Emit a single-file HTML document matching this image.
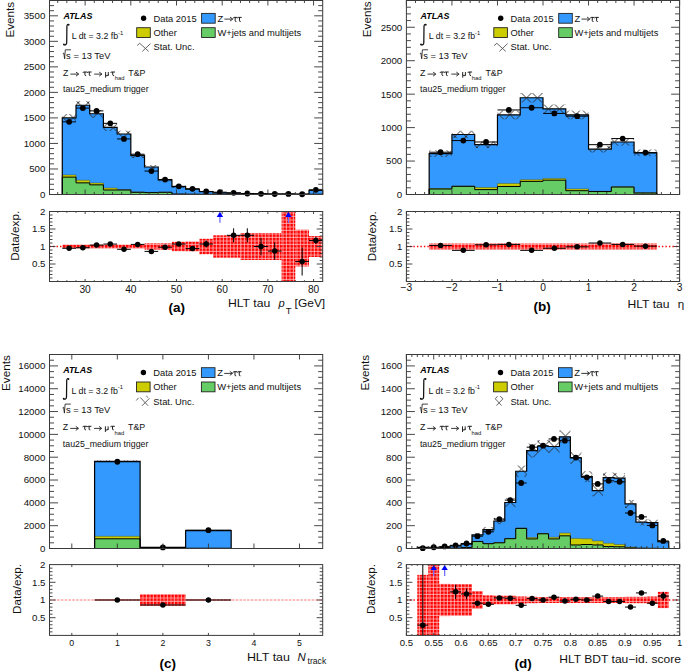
<!DOCTYPE html>
<html><head><meta charset="utf-8"><title>ATLAS HLT tau</title>
<style>
html,body{margin:0;padding:0;background:#fff;}
body{width:685px;height:672px;overflow:hidden;font-family:"Liberation Sans", sans-serif;}
svg{display:block;}
</style></head><body>
<svg width="685" height="672" viewBox="0 0 685 672" font-family='&quot;Liberation Sans&quot;, sans-serif'><defs><pattern id="hA" patternUnits="userSpaceOnUse" x="73.2" y="97.7" width="10" height="10"><path d="M-1,-1 L11,11 M11,-1 L-1,11" stroke="#222" stroke-width="0.9" fill="none"/></pattern><pattern id="rp_a" patternUnits="userSpaceOnUse" width="3.5" height="3.5"><rect width="3.5" height="3.5" fill="#ff0000"/><rect x="0" y="2.5" width="3.5" height="0.75" fill="#ffc4c4"/><rect x="2.5" y="0" width="0.75" height="3.5" fill="#ffc4c4"/></pattern><pattern id="hB" patternUnits="userSpaceOnUse" x="520.9" y="92.5" width="11" height="11"><path d="M-1,-1 L12,12 M12,-1 L-1,12" stroke="#222" stroke-width="0.9" fill="none"/></pattern><pattern id="rp_b" patternUnits="userSpaceOnUse" width="3.5" height="3.5"><rect width="3.5" height="3.5" fill="#ff0000"/><rect x="0" y="2.5" width="3.5" height="0.75" fill="#ffc4c4"/><rect x="2.5" y="0" width="0.75" height="3.5" fill="#ffc4c4"/></pattern><pattern id="hC" patternUnits="userSpaceOnUse" x="0" y="0" width="9" height="9"><path d="M-1,-1 L10,10 M10,-1 L-1,10" stroke="#222" stroke-width="0.9" fill="none"/></pattern><pattern id="rp_c" patternUnits="userSpaceOnUse" width="3.5" height="3.5"><rect width="3.5" height="3.5" fill="#ff0000"/><rect x="0" y="2.5" width="3.5" height="0.75" fill="#ffc4c4"/><rect x="2.5" y="0" width="0.75" height="3.5" fill="#ffc4c4"/></pattern><pattern id="hD" patternUnits="userSpaceOnUse" x="592.9" y="485.5" width="11" height="11"><path d="M-1,-1 L12,12 M12,-1 L-1,12" stroke="#222" stroke-width="0.9" fill="none"/></pattern><pattern id="rp_d" patternUnits="userSpaceOnUse" width="3.5" height="3.5"><rect width="3.5" height="3.5" fill="#ff0000"/><rect x="0" y="2.5" width="3.5" height="0.75" fill="#ffc4c4"/><rect x="2.5" y="0" width="0.75" height="3.5" fill="#ffc4c4"/></pattern></defs><rect width="685" height="672" fill="#fff"/><path d="M62.29,194.5 L62.29,117.92 L76,117.92 L76,105.26 L89.7,105.26 L89.7,113.73 L103.41,113.73 L103.41,127.42 L117.11,127.42 L117.11,134 L130.82,134 L130.82,155.34 L144.53,155.34 L144.53,166.98 L158.23,166.98 L158.23,179.85 L171.94,179.85 L171.94,186.59 L185.64,186.59 L185.64,189.14 L199.35,189.14 L199.35,191.69 L213.05,191.69 L213.05,192.82 L226.76,192.82 L226.76,193.22 L240.47,193.22 L240.47,193.73 L254.17,193.73 L254.17,193.89 L267.88,193.89 L267.88,193.99 L281.58,193.99 L281.58,194.09 L295.29,194.09 L295.29,194.09 L308.99,194.09 L308.99,190.42 L322.7,190.42 L322.7,194.5 Z" fill="#3399ff"/>
<path d="M62.29,194.5 L62.29,174.9 L76,174.9 L76,180.21 L89.7,180.21 L89.7,182.96 L103.41,182.96 L103.41,188.07 L117.11,188.07 L117.11,189.65 L130.82,189.65 L130.82,192 L144.53,192 L144.53,192.41 L158.23,192.41 L158.23,192.15 L171.94,192.15 L171.94,193.99 L185.64,193.99 L185.64,194.19 L199.35,194.19 L199.35,194.3 L213.05,194.3 L213.05,194.35 L226.76,194.35 L226.76,194.4 L240.47,194.4 L240.47,194.4 L254.17,194.4 L254.17,194.45 L267.88,194.45 L267.88,194.45 L281.58,194.45 L281.58,194.5 L295.29,194.5 L295.29,194.5 L308.99,194.5 L308.99,194.19 L322.7,194.19 L322.7,194.5 Z" fill="#cccc00"/>
<path d="M62.29,194.5 L62.29,177.14 L76,177.14 L76,182.86 L89.7,182.86 L89.7,184.85 L103.41,184.85 L103.41,190.01 L117.11,190.01 L117.11,190.01 L130.82,190.01 L130.82,192.3 L144.53,192.3 L144.53,192.61 L158.23,192.61 L158.23,192.3 L171.94,192.3 L171.94,194.09 L185.64,194.09 L185.64,194.24 L199.35,194.24 L199.35,194.35 L213.05,194.35 L213.05,194.4 L226.76,194.4 L226.76,194.45 L240.47,194.45 L240.47,194.45 L254.17,194.45 L254.17,194.45 L267.88,194.45 L267.88,194.45 L281.58,194.45 L281.58,194.5 L295.29,194.5 L295.29,194.5 L308.99,194.5 L308.99,194.24 L322.7,194.24 L322.7,194.5 Z" fill="#66cc66"/>
<path d="M62.29,194.5 L62.29,174.9 L76,174.9 L76,180.21 L89.7,180.21 L89.7,182.96 L103.41,182.96 L103.41,188.07 L117.11,188.07 L117.11,189.65 L130.82,189.65 L130.82,192 L144.53,192 L144.53,192.41 L158.23,192.41 L158.23,192.15 L171.94,192.15 L171.94,193.99 L185.64,193.99 L185.64,194.19 L199.35,194.19 L199.35,194.3 L213.05,194.3 L213.05,194.35 L226.76,194.35 L226.76,194.4 L240.47,194.4 L240.47,194.4 L254.17,194.4 L254.17,194.45 L267.88,194.45 L267.88,194.45 L281.58,194.45 L281.58,194.5 L295.29,194.5 L295.29,194.5 L308.99,194.5 L308.99,194.19 L322.7,194.19 L322.7,194.5" fill="none" stroke="#4a5a30" stroke-width="0.5"/>
<path d="M62.29,194.5 L62.29,177.14 L76,177.14 L76,182.86 L89.7,182.86 L89.7,184.85 L103.41,184.85 L103.41,190.01 L117.11,190.01 L117.11,190.01 L130.82,190.01 L130.82,192.3 L144.53,192.3 L144.53,192.61 L158.23,192.61 L158.23,192.3 L171.94,192.3 L171.94,194.09 L185.64,194.09 L185.64,194.24 L199.35,194.24 L199.35,194.35 L213.05,194.35 L213.05,194.4 L226.76,194.4 L226.76,194.45 L240.47,194.45 L240.47,194.45 L254.17,194.45 L254.17,194.45 L267.88,194.45 L267.88,194.45 L281.58,194.45 L281.58,194.5 L295.29,194.5 L295.29,194.5 L308.99,194.5 L308.99,194.24 L322.7,194.24 L322.7,194.5" fill="none" stroke="#000" stroke-width="1.0"/>
<path d="M62.29,194.5 L62.29,117.92 L76,117.92 L76,105.26 L89.7,105.26 L89.7,113.73 L103.41,113.73 L103.41,127.42 L117.11,127.42 L117.11,134 L130.82,134 L130.82,155.34 L144.53,155.34 L144.53,166.98 L158.23,166.98 L158.23,179.85 L171.94,179.85 L171.94,186.59 L185.64,186.59 L185.64,189.14 L199.35,189.14 L199.35,191.69 L213.05,191.69 L213.05,192.82 L226.76,192.82 L226.76,193.22 L240.47,193.22 L240.47,193.73 L254.17,193.73 L254.17,193.89 L267.88,193.89 L267.88,193.99 L281.58,193.99 L281.58,194.09 L295.29,194.09 L295.29,194.09 L308.99,194.09 L308.99,190.42 L322.7,190.42 L322.7,194.5" fill="none" stroke="#000" stroke-width="1.2"/>
<rect x="62.29" y="114.09" width="13.71" height="7.66" fill="url(#hA)"/>
<rect x="76" y="101.18" width="13.71" height="8.17" fill="url(#hA)"/>
<rect x="89.7" y="109.91" width="13.71" height="7.66" fill="url(#hA)"/>
<rect x="103.41" y="123.84" width="13.71" height="7.15" fill="url(#hA)"/>
<rect x="117.11" y="130.68" width="13.71" height="6.64" fill="url(#hA)"/>
<rect x="130.82" y="152.79" width="13.71" height="5.11" fill="url(#hA)"/>
<rect x="144.53" y="164.94" width="13.71" height="4.08" fill="url(#hA)"/>
<rect x="158.23" y="178.32" width="13.71" height="3.06" fill="url(#hA)"/>
<rect x="171.94" y="185.57" width="13.71" height="2.04" fill="url(#hA)"/>
<rect x="185.64" y="188.37" width="13.71" height="1.53" fill="url(#hA)"/>
<rect x="199.35" y="191.18" width="13.71" height="1.02" fill="url(#hA)"/>
<rect x="213.05" y="192.41" width="13.71" height="0.82" fill="url(#hA)"/>
<rect x="226.76" y="192.92" width="13.71" height="0.61" fill="url(#hA)"/>
<rect x="240.47" y="193.48" width="13.71" height="0.51" fill="url(#hA)"/>
<rect x="254.17" y="193.68" width="13.71" height="0.41" fill="url(#hA)"/>
<rect x="267.88" y="193.79" width="13.71" height="0.41" fill="url(#hA)"/>
<rect x="281.58" y="193.94" width="13.71" height="0.31" fill="url(#hA)"/>
<rect x="295.29" y="193.94" width="13.71" height="0.31" fill="url(#hA)"/>
<rect x="308.99" y="189.91" width="13.71" height="1.02" fill="url(#hA)"/>
<line x1="62.29" y1="121.85" x2="76" y2="121.85" stroke="#000" stroke-width="1"/>
<circle cx="69.14" cy="121.85" r="2.9" fill="#000"/>
<line x1="76" y1="108.07" x2="89.7" y2="108.07" stroke="#000" stroke-width="1"/>
<circle cx="82.85" cy="108.07" r="2.9" fill="#000"/>
<line x1="89.7" y1="110.88" x2="103.41" y2="110.88" stroke="#000" stroke-width="1"/>
<circle cx="96.56" cy="110.88" r="2.9" fill="#000"/>
<line x1="103.41" y1="123.33" x2="117.11" y2="123.33" stroke="#000" stroke-width="1"/>
<circle cx="110.26" cy="123.33" r="2.9" fill="#000"/>
<line x1="117.11" y1="138.95" x2="130.82" y2="138.95" stroke="#000" stroke-width="1"/>
<circle cx="123.97" cy="138.95" r="2.9" fill="#000"/>
<line x1="130.82" y1="154.22" x2="144.53" y2="154.22" stroke="#000" stroke-width="1"/>
<circle cx="137.67" cy="154.22" r="2.9" fill="#000"/>
<line x1="144.53" y1="171.07" x2="158.23" y2="171.07" stroke="#000" stroke-width="1"/>
<circle cx="151.38" cy="171.07" r="2.9" fill="#000"/>
<line x1="158.23" y1="179.54" x2="171.94" y2="179.54" stroke="#000" stroke-width="1"/>
<circle cx="165.08" cy="179.54" r="2.9" fill="#000"/>
<line x1="171.94" y1="186.33" x2="185.64" y2="186.33" stroke="#000" stroke-width="1"/>
<circle cx="178.79" cy="186.33" r="2.9" fill="#000"/>
<line x1="185.64" y1="188.83" x2="199.35" y2="188.83" stroke="#000" stroke-width="1"/>
<circle cx="192.5" cy="188.83" r="2.9" fill="#000"/>
<line x1="199.35" y1="191.44" x2="213.05" y2="191.44" stroke="#000" stroke-width="1"/>
<circle cx="206.2" cy="191.44" r="2.9" fill="#000"/>
<line x1="213.05" y1="192.2" x2="226.76" y2="192.2" stroke="#000" stroke-width="1"/>
<circle cx="219.91" cy="192.2" r="2.9" fill="#000"/>
<line x1="226.76" y1="192.82" x2="240.47" y2="192.82" stroke="#000" stroke-width="1"/>
<circle cx="233.61" cy="192.82" r="2.9" fill="#000"/>
<line x1="240.47" y1="193.48" x2="254.17" y2="193.48" stroke="#000" stroke-width="1"/>
<circle cx="247.32" cy="193.48" r="2.9" fill="#000"/>
<line x1="254.17" y1="193.79" x2="267.88" y2="193.79" stroke="#000" stroke-width="1"/>
<circle cx="261.02" cy="193.79" r="2.9" fill="#000"/>
<line x1="267.88" y1="193.99" x2="281.58" y2="193.99" stroke="#000" stroke-width="1"/>
<circle cx="274.73" cy="193.99" r="2.9" fill="#000"/>
<line x1="281.58" y1="193.89" x2="295.29" y2="193.89" stroke="#000" stroke-width="1"/>
<circle cx="288.44" cy="193.89" r="2.9" fill="#000"/>
<line x1="295.29" y1="194.24" x2="308.99" y2="194.24" stroke="#000" stroke-width="1"/>
<circle cx="302.14" cy="194.24" r="2.9" fill="#000"/>
<line x1="308.99" y1="189.8" x2="322.7" y2="189.8" stroke="#000" stroke-width="1"/>
<circle cx="315.85" cy="189.8" r="2.9" fill="#000"/>
<rect x="62.29" y="244.57" width="13.71" height="3.85" fill="url(#rp_a)"/>
<rect x="76" y="244.57" width="13.71" height="3.85" fill="url(#rp_a)"/>
<rect x="89.7" y="244.57" width="13.71" height="3.85" fill="url(#rp_a)"/>
<rect x="103.41" y="244.57" width="13.71" height="3.85" fill="url(#rp_a)"/>
<rect x="117.11" y="244.57" width="13.71" height="3.85" fill="url(#rp_a)"/>
<rect x="130.82" y="244.57" width="13.71" height="3.85" fill="url(#rp_a)"/>
<rect x="144.53" y="243.35" width="13.71" height="6.3" fill="url(#rp_a)"/>
<rect x="158.23" y="243.35" width="13.71" height="6.3" fill="url(#rp_a)"/>
<rect x="171.94" y="241.78" width="13.71" height="9.45" fill="url(#rp_a)"/>
<rect x="185.64" y="241.6" width="13.71" height="9.8" fill="url(#rp_a)"/>
<rect x="199.35" y="238.8" width="13.71" height="15.4" fill="url(#rp_a)"/>
<rect x="213.05" y="235.3" width="13.71" height="22.4" fill="url(#rp_a)"/>
<rect x="226.76" y="235.3" width="13.71" height="22.4" fill="url(#rp_a)"/>
<rect x="240.47" y="233.03" width="13.71" height="26.95" fill="url(#rp_a)"/>
<rect x="254.17" y="233.03" width="13.71" height="26.95" fill="url(#rp_a)"/>
<rect x="267.88" y="233.03" width="13.71" height="26.95" fill="url(#rp_a)"/>
<rect x="281.58" y="211.5" width="13.71" height="70" fill="url(#rp_a)"/>
<rect x="295.29" y="229.7" width="13.71" height="36.75" fill="url(#rp_a)"/>
<rect x="308.99" y="236" width="13.71" height="21" fill="url(#rp_a)"/>
<line x1="49.5" y1="246.5" x2="322.7" y2="246.5" stroke="#ff0000" stroke-width="1.4" stroke-dasharray="1.4,2.1"/>
<line x1="62.29" y1="248.25" x2="76" y2="248.25" stroke="#000" stroke-width="1"/>
<circle cx="69.14" cy="248.25" r="2.75" fill="#000"/>
<line x1="76" y1="247.72" x2="89.7" y2="247.72" stroke="#000" stroke-width="1"/>
<circle cx="82.85" cy="247.72" r="2.75" fill="#000"/>
<line x1="89.7" y1="245.1" x2="103.41" y2="245.1" stroke="#000" stroke-width="1"/>
<circle cx="96.56" cy="245.1" r="2.75" fill="#000"/>
<line x1="103.41" y1="244.05" x2="117.11" y2="244.05" stroke="#000" stroke-width="1"/>
<circle cx="110.26" cy="244.05" r="2.75" fill="#000"/>
<line x1="117.11" y1="249.3" x2="130.82" y2="249.3" stroke="#000" stroke-width="1"/>
<circle cx="123.97" cy="249.3" r="2.75" fill="#000"/>
<line x1="130.82" y1="244.4" x2="144.53" y2="244.4" stroke="#000" stroke-width="1"/>
<circle cx="137.67" cy="244.4" r="2.75" fill="#000"/>
<line x1="144.53" y1="251.4" x2="158.23" y2="251.4" stroke="#000" stroke-width="1"/>
<circle cx="151.38" cy="251.4" r="2.75" fill="#000"/>
<line x1="158.23" y1="247.2" x2="171.94" y2="247.2" stroke="#000" stroke-width="1"/>
<circle cx="165.08" cy="247.2" r="2.75" fill="#000"/>
<line x1="171.94" y1="244.05" x2="185.64" y2="244.05" stroke="#000" stroke-width="1"/>
<line x1="178.79" y1="243" x2="178.79" y2="245.1" stroke="#000" stroke-width="1"/>
<circle cx="178.79" cy="244.05" r="2.75" fill="#000"/>
<line x1="185.64" y1="248.6" x2="199.35" y2="248.6" stroke="#000" stroke-width="1"/>
<line x1="192.5" y1="246.5" x2="192.5" y2="250.7" stroke="#000" stroke-width="1"/>
<circle cx="192.5" cy="248.6" r="2.75" fill="#000"/>
<line x1="199.35" y1="244.05" x2="213.05" y2="244.05" stroke="#000" stroke-width="1"/>
<line x1="206.2" y1="240.55" x2="206.2" y2="247.55" stroke="#000" stroke-width="1"/>
<circle cx="206.2" cy="244.05" r="2.75" fill="#000"/>
<line x1="219.91" y1="216.3" x2="219.91" y2="222.8" stroke="#7070ff" stroke-width="1.3"/>
<path d="M219.91,211.8 L216.71,217 L223.11,217 Z" fill="#0000ff"/>
<line x1="226.76" y1="235.3" x2="240.47" y2="235.3" stroke="#000" stroke-width="1"/>
<line x1="233.61" y1="228.3" x2="233.61" y2="242.3" stroke="#000" stroke-width="1"/>
<circle cx="233.61" cy="235.3" r="2.75" fill="#000"/>
<line x1="240.47" y1="235.3" x2="254.17" y2="235.3" stroke="#000" stroke-width="1"/>
<line x1="247.32" y1="228.3" x2="247.32" y2="242.3" stroke="#000" stroke-width="1"/>
<circle cx="247.32" cy="235.3" r="2.75" fill="#000"/>
<line x1="254.17" y1="246.5" x2="267.88" y2="246.5" stroke="#000" stroke-width="1"/>
<line x1="261.02" y1="237.75" x2="261.02" y2="255.25" stroke="#000" stroke-width="1"/>
<circle cx="261.02" cy="246.5" r="2.75" fill="#000"/>
<line x1="267.88" y1="251.05" x2="281.58" y2="251.05" stroke="#000" stroke-width="1"/>
<line x1="274.73" y1="242.3" x2="274.73" y2="259.8" stroke="#000" stroke-width="1"/>
<circle cx="274.73" cy="251.05" r="2.75" fill="#000"/>
<line x1="288.44" y1="216.3" x2="288.44" y2="222.8" stroke="#7070ff" stroke-width="1.3"/>
<path d="M288.44,211.8 L285.24,217 L291.64,217 Z" fill="#0000ff"/>
<line x1="295.29" y1="261.55" x2="308.99" y2="261.55" stroke="#000" stroke-width="1"/>
<line x1="302.14" y1="247.55" x2="302.14" y2="275.55" stroke="#000" stroke-width="1"/>
<circle cx="302.14" cy="261.55" r="2.75" fill="#000"/>
<line x1="308.99" y1="240.55" x2="322.7" y2="240.55" stroke="#000" stroke-width="1"/>
<line x1="315.85" y1="237.05" x2="315.85" y2="244.05" stroke="#000" stroke-width="1"/>
<circle cx="315.85" cy="240.55" r="2.75" fill="#000"/>
<path d="M85.13,194.5 v-5 M85.13,0.5 v5 M85.13,281.5 v-2.5 M85.13,211.5 v2.5 M130.82,194.5 v-5 M130.82,0.5 v5 M130.82,281.5 v-2.5 M130.82,211.5 v2.5 M176.51,194.5 v-5 M176.51,0.5 v5 M176.51,281.5 v-2.5 M176.51,211.5 v2.5 M222.19,194.5 v-5 M222.19,0.5 v5 M222.19,281.5 v-2.5 M222.19,211.5 v2.5 M267.88,194.5 v-5 M267.88,0.5 v5 M267.88,281.5 v-2.5 M267.88,211.5 v2.5 M313.56,194.5 v-5 M313.56,0.5 v5 M313.56,281.5 v-2.5 M313.56,211.5 v2.5 M57.72,194.5 v-2.5 M57.72,0.5 v2.5 M57.72,281.5 v-1.3 M57.72,211.5 v1.3 M66.86,194.5 v-2.5 M66.86,0.5 v2.5 M66.86,281.5 v-1.3 M66.86,211.5 v1.3 M76,194.5 v-2.5 M76,0.5 v2.5 M76,281.5 v-1.3 M76,211.5 v1.3 M94.27,194.5 v-2.5 M94.27,0.5 v2.5 M94.27,281.5 v-1.3 M94.27,211.5 v1.3 M103.41,194.5 v-2.5 M103.41,0.5 v2.5 M103.41,281.5 v-1.3 M103.41,211.5 v1.3 M112.55,194.5 v-2.5 M112.55,0.5 v2.5 M112.55,281.5 v-1.3 M112.55,211.5 v1.3 M121.68,194.5 v-2.5 M121.68,0.5 v2.5 M121.68,281.5 v-1.3 M121.68,211.5 v1.3 M139.96,194.5 v-2.5 M139.96,0.5 v2.5 M139.96,281.5 v-1.3 M139.96,211.5 v1.3 M149.09,194.5 v-2.5 M149.09,0.5 v2.5 M149.09,281.5 v-1.3 M149.09,211.5 v1.3 M158.23,194.5 v-2.5 M158.23,0.5 v2.5 M158.23,281.5 v-1.3 M158.23,211.5 v1.3 M167.37,194.5 v-2.5 M167.37,0.5 v2.5 M167.37,281.5 v-1.3 M167.37,211.5 v1.3 M185.64,194.5 v-2.5 M185.64,0.5 v2.5 M185.64,281.5 v-1.3 M185.64,211.5 v1.3 M194.78,194.5 v-2.5 M194.78,0.5 v2.5 M194.78,281.5 v-1.3 M194.78,211.5 v1.3 M203.92,194.5 v-2.5 M203.92,0.5 v2.5 M203.92,281.5 v-1.3 M203.92,211.5 v1.3 M213.05,194.5 v-2.5 M213.05,0.5 v2.5 M213.05,281.5 v-1.3 M213.05,211.5 v1.3 M231.33,194.5 v-2.5 M231.33,0.5 v2.5 M231.33,281.5 v-1.3 M231.33,211.5 v1.3 M240.47,194.5 v-2.5 M240.47,0.5 v2.5 M240.47,281.5 v-1.3 M240.47,211.5 v1.3 M249.6,194.5 v-2.5 M249.6,0.5 v2.5 M249.6,281.5 v-1.3 M249.6,211.5 v1.3 M258.74,194.5 v-2.5 M258.74,0.5 v2.5 M258.74,281.5 v-1.3 M258.74,211.5 v1.3 M277.01,194.5 v-2.5 M277.01,0.5 v2.5 M277.01,281.5 v-1.3 M277.01,211.5 v1.3 M286.15,194.5 v-2.5 M286.15,0.5 v2.5 M286.15,281.5 v-1.3 M286.15,211.5 v1.3 M295.29,194.5 v-2.5 M295.29,0.5 v2.5 M295.29,281.5 v-1.3 M295.29,211.5 v1.3 M304.43,194.5 v-2.5 M304.43,0.5 v2.5 M304.43,281.5 v-1.3 M304.43,211.5 v1.3 M49.5,168.97 h8.5 M322.7,168.97 h-8.5 M49.5,143.45 h8.5 M322.7,143.45 h-8.5 M49.5,117.92 h8.5 M322.7,117.92 h-8.5 M49.5,92.39 h8.5 M322.7,92.39 h-8.5 M49.5,66.87 h8.5 M322.7,66.87 h-8.5 M49.5,41.34 h8.5 M322.7,41.34 h-8.5 M49.5,15.82 h8.5 M322.7,15.82 h-8.5 M49.5,189.39 h4.5 M322.7,189.39 h-4.5 M49.5,184.29 h4.5 M322.7,184.29 h-4.5 M49.5,179.18 h4.5 M322.7,179.18 h-4.5 M49.5,174.08 h4.5 M322.7,174.08 h-4.5 M49.5,163.87 h4.5 M322.7,163.87 h-4.5 M49.5,158.76 h4.5 M322.7,158.76 h-4.5 M49.5,153.66 h4.5 M322.7,153.66 h-4.5 M49.5,148.55 h4.5 M322.7,148.55 h-4.5 M49.5,138.34 h4.5 M322.7,138.34 h-4.5 M49.5,133.24 h4.5 M322.7,133.24 h-4.5 M49.5,128.13 h4.5 M322.7,128.13 h-4.5 M49.5,123.03 h4.5 M322.7,123.03 h-4.5 M49.5,112.82 h4.5 M322.7,112.82 h-4.5 M49.5,107.71 h4.5 M322.7,107.71 h-4.5 M49.5,102.61 h4.5 M322.7,102.61 h-4.5 M49.5,97.5 h4.5 M322.7,97.5 h-4.5 M49.5,87.29 h4.5 M322.7,87.29 h-4.5 M49.5,82.18 h4.5 M322.7,82.18 h-4.5 M49.5,77.08 h4.5 M322.7,77.08 h-4.5 M49.5,71.97 h4.5 M322.7,71.97 h-4.5 M49.5,61.76 h4.5 M322.7,61.76 h-4.5 M49.5,56.66 h4.5 M322.7,56.66 h-4.5 M49.5,51.55 h4.5 M322.7,51.55 h-4.5 M49.5,46.45 h4.5 M322.7,46.45 h-4.5 M49.5,36.24 h4.5 M322.7,36.24 h-4.5 M49.5,31.13 h4.5 M322.7,31.13 h-4.5 M49.5,26.03 h4.5 M322.7,26.03 h-4.5 M49.5,20.92 h4.5 M322.7,20.92 h-4.5 M49.5,10.71 h4.5 M322.7,10.71 h-4.5 M49.5,5.61 h4.5 M322.7,5.61 h-4.5 M49.5,278 h3 M322.7,278 h-3 M49.5,274.5 h3 M322.7,274.5 h-3 M49.5,271 h3 M322.7,271 h-3 M49.5,267.5 h3 M322.7,267.5 h-3 M49.5,264 h6 M322.7,264 h-6 M49.5,260.5 h3 M322.7,260.5 h-3 M49.5,257 h3 M322.7,257 h-3 M49.5,253.5 h3 M322.7,253.5 h-3 M49.5,250 h3 M322.7,250 h-3 M49.5,246.5 h6 M322.7,246.5 h-6 M49.5,243 h3 M322.7,243 h-3 M49.5,239.5 h3 M322.7,239.5 h-3 M49.5,236 h3 M322.7,236 h-3 M49.5,232.5 h3 M322.7,232.5 h-3 M49.5,229 h6 M322.7,229 h-6 M49.5,225.5 h3 M322.7,225.5 h-3 M49.5,222 h3 M322.7,222 h-3 M49.5,218.5 h3 M322.7,218.5 h-3 M49.5,215 h3 M322.7,215 h-3" stroke="#333" stroke-width="0.9" fill="none"/>
<rect x="49.5" y="0.5" width="273.2" height="194" fill="none" stroke="#3a3a3a" stroke-width="1"/>
<rect x="49.5" y="211.5" width="273.2" height="70" fill="none" stroke="#3a3a3a" stroke-width="1"/>
<text x="85.13" y="292.5" font-size="10.2" text-anchor="middle" font-weight="normal" font-style="normal" fill="#111">30</text>
<text x="130.82" y="292.5" font-size="10.2" text-anchor="middle" font-weight="normal" font-style="normal" fill="#111">40</text>
<text x="176.51" y="292.5" font-size="10.2" text-anchor="middle" font-weight="normal" font-style="normal" fill="#111">50</text>
<text x="222.19" y="292.5" font-size="10.2" text-anchor="middle" font-weight="normal" font-style="normal" fill="#111">60</text>
<text x="267.88" y="292.5" font-size="10.2" text-anchor="middle" font-weight="normal" font-style="normal" fill="#111">70</text>
<text x="313.56" y="292.5" font-size="10.2" text-anchor="middle" font-weight="normal" font-style="normal" fill="#111">80</text>
<text x="45.3" y="197.9" font-size="9.7" text-anchor="end" font-weight="normal" font-style="normal" fill="#111">0</text>
<text x="45.3" y="172.37" font-size="9.7" text-anchor="end" font-weight="normal" font-style="normal" fill="#111">500</text>
<text x="45.3" y="146.85" font-size="9.7" text-anchor="end" font-weight="normal" font-style="normal" fill="#111">1000</text>
<text x="45.3" y="121.32" font-size="9.7" text-anchor="end" font-weight="normal" font-style="normal" fill="#111">1500</text>
<text x="45.3" y="95.79" font-size="9.7" text-anchor="end" font-weight="normal" font-style="normal" fill="#111">2000</text>
<text x="45.3" y="70.27" font-size="9.7" text-anchor="end" font-weight="normal" font-style="normal" fill="#111">2500</text>
<text x="45.3" y="44.74" font-size="9.7" text-anchor="end" font-weight="normal" font-style="normal" fill="#111">3000</text>
<text x="45.3" y="19.22" font-size="9.7" text-anchor="end" font-weight="normal" font-style="normal" fill="#111">3500</text>
<text x="45.5" y="267.4" font-size="9.7" text-anchor="end" font-weight="normal" font-style="normal" fill="#111">0.5</text>
<text x="45.5" y="249.9" font-size="9.7" text-anchor="end" font-weight="normal" font-style="normal" fill="#111">1</text>
<text x="45.5" y="232.4" font-size="9.7" text-anchor="end" font-weight="normal" font-style="normal" fill="#111">1.5</text>
<text x="45.5" y="214.9" font-size="9.7" text-anchor="end" font-weight="normal" font-style="normal" fill="#111">2</text>
<path d="M429.17,194.5 L429.17,153.63 L451.93,153.63 L451.93,134.49 L474.7,134.49 L474.7,144.66 L497.47,144.66 L497.47,114.96 L520.23,114.96 L520.23,97.77 L543,97.77 L543,108.87 L565.77,108.87 L565.77,114.96 L588.53,114.96 L588.53,149.14 L611.3,149.14 L611.3,141.99 L634.07,141.99 L634.07,152.82 L656.83,152.82 L656.83,194.5 Z" fill="#3399ff"/>
<path d="M429.17,194.5 L429.17,188.61 L451.93,188.61 L451.93,186.07 L474.7,186.07 L474.7,187.48 L497.47,187.48 L497.47,183.46 L520.23,183.46 L520.23,179.65 L543,179.65 L543,178.44 L565.77,178.44 L565.77,188.88 L588.53,188.88 L588.53,191.29 L611.3,191.29 L611.3,186.87 L634.07,186.87 L634.07,192.69 L656.83,192.69 L656.83,194.5 Z" fill="#cccc00"/>
<path d="M429.17,194.5 L429.17,189.01 L451.93,189.01 L451.93,186.34 L474.7,186.34 L474.7,189.62 L497.47,189.62 L497.47,186.47 L520.23,186.47 L520.23,181.39 L543,181.39 L543,180.18 L565.77,180.18 L565.77,190.69 L588.53,190.69 L588.53,191.56 L611.3,191.56 L611.3,187.01 L634.07,187.01 L634.07,193.03 L656.83,193.03 L656.83,194.5 Z" fill="#66cc66"/>
<path d="M429.17,194.5 L429.17,188.61 L451.93,188.61 L451.93,186.07 L474.7,186.07 L474.7,187.48 L497.47,187.48 L497.47,183.46 L520.23,183.46 L520.23,179.65 L543,179.65 L543,178.44 L565.77,178.44 L565.77,188.88 L588.53,188.88 L588.53,191.29 L611.3,191.29 L611.3,186.87 L634.07,186.87 L634.07,192.69 L656.83,192.69 L656.83,194.5" fill="none" stroke="#4a5a30" stroke-width="0.5"/>
<path d="M429.17,194.5 L429.17,189.01 L451.93,189.01 L451.93,186.34 L474.7,186.34 L474.7,189.62 L497.47,189.62 L497.47,186.47 L520.23,186.47 L520.23,181.39 L543,181.39 L543,180.18 L565.77,180.18 L565.77,190.69 L588.53,190.69 L588.53,191.56 L611.3,191.56 L611.3,187.01 L634.07,187.01 L634.07,193.03 L656.83,193.03 L656.83,194.5" fill="none" stroke="#000" stroke-width="1.0"/>
<path d="M429.17,194.5 L429.17,153.63 L451.93,153.63 L451.93,134.49 L474.7,134.49 L474.7,144.66 L497.47,144.66 L497.47,114.96 L520.23,114.96 L520.23,97.77 L543,97.77 L543,108.87 L565.77,108.87 L565.77,114.96 L588.53,114.96 L588.53,149.14 L611.3,149.14 L611.3,141.99 L634.07,141.99 L634.07,152.82 L656.83,152.82 L656.83,194.5" fill="none" stroke="#000" stroke-width="1.2"/>
<rect x="429.17" y="150.28" width="22.77" height="6.69" fill="url(#hB)"/>
<rect x="451.93" y="130.81" width="22.77" height="7.36" fill="url(#hB)"/>
<rect x="474.7" y="141.32" width="22.77" height="6.69" fill="url(#hB)"/>
<rect x="497.47" y="110.61" width="22.77" height="8.7" fill="url(#hB)"/>
<rect x="520.23" y="93.08" width="22.77" height="9.37" fill="url(#hB)"/>
<rect x="543" y="104.52" width="22.77" height="8.7" fill="url(#hB)"/>
<rect x="565.77" y="110.61" width="22.77" height="8.7" fill="url(#hB)"/>
<rect x="588.53" y="145.8" width="22.77" height="6.69" fill="url(#hB)"/>
<rect x="611.3" y="138.31" width="22.77" height="7.36" fill="url(#hB)"/>
<rect x="634.07" y="149.48" width="22.77" height="6.69" fill="url(#hB)"/>
<line x1="429.17" y1="152.22" x2="451.93" y2="152.22" stroke="#000" stroke-width="1"/>
<circle cx="440.55" cy="152.22" r="2.9" fill="#000"/>
<line x1="451.93" y1="140.58" x2="474.7" y2="140.58" stroke="#000" stroke-width="1"/>
<circle cx="463.32" cy="140.58" r="2.9" fill="#000"/>
<line x1="474.7" y1="141.99" x2="497.47" y2="141.99" stroke="#000" stroke-width="1"/>
<circle cx="486.08" cy="141.99" r="2.9" fill="#000"/>
<line x1="497.47" y1="109.94" x2="520.23" y2="109.94" stroke="#000" stroke-width="1"/>
<circle cx="508.85" cy="109.94" r="2.9" fill="#000"/>
<line x1="520.23" y1="107.74" x2="543" y2="107.74" stroke="#000" stroke-width="1"/>
<circle cx="531.62" cy="107.74" r="2.9" fill="#000"/>
<line x1="543" y1="113.42" x2="565.77" y2="113.42" stroke="#000" stroke-width="1"/>
<circle cx="554.38" cy="113.42" r="2.9" fill="#000"/>
<line x1="565.77" y1="116.16" x2="588.53" y2="116.16" stroke="#000" stroke-width="1"/>
<circle cx="577.15" cy="116.16" r="2.9" fill="#000"/>
<line x1="588.53" y1="144.66" x2="611.3" y2="144.66" stroke="#000" stroke-width="1"/>
<circle cx="599.92" cy="144.66" r="2.9" fill="#000"/>
<line x1="611.3" y1="138.57" x2="634.07" y2="138.57" stroke="#000" stroke-width="1"/>
<circle cx="622.68" cy="138.57" r="2.9" fill="#000"/>
<line x1="634.07" y1="152.62" x2="656.83" y2="152.62" stroke="#000" stroke-width="1"/>
<circle cx="645.45" cy="152.62" r="2.9" fill="#000"/>
<rect x="429.17" y="243.53" width="22.77" height="5.95" fill="url(#rp_b)"/>
<rect x="451.93" y="243.53" width="22.77" height="5.95" fill="url(#rp_b)"/>
<rect x="474.7" y="243.53" width="22.77" height="5.95" fill="url(#rp_b)"/>
<rect x="497.47" y="243.53" width="22.77" height="5.95" fill="url(#rp_b)"/>
<rect x="520.23" y="243.53" width="22.77" height="5.95" fill="url(#rp_b)"/>
<rect x="543" y="243.53" width="22.77" height="5.95" fill="url(#rp_b)"/>
<rect x="565.77" y="243.53" width="22.77" height="5.95" fill="url(#rp_b)"/>
<rect x="588.53" y="243.53" width="22.77" height="5.95" fill="url(#rp_b)"/>
<rect x="611.3" y="243.53" width="22.77" height="5.95" fill="url(#rp_b)"/>
<rect x="634.07" y="243.53" width="22.77" height="5.95" fill="url(#rp_b)"/>
<line x1="406.4" y1="246.5" x2="679.6" y2="246.5" stroke="#ff0000" stroke-width="1.4" stroke-dasharray="1.4,2.1"/>
<line x1="429.17" y1="245.45" x2="451.93" y2="245.45" stroke="#000" stroke-width="1"/>
<circle cx="440.55" cy="245.45" r="2.75" fill="#000"/>
<line x1="451.93" y1="250.35" x2="474.7" y2="250.35" stroke="#000" stroke-width="1"/>
<circle cx="463.32" cy="250.35" r="2.75" fill="#000"/>
<line x1="474.7" y1="244.75" x2="497.47" y2="244.75" stroke="#000" stroke-width="1"/>
<circle cx="486.08" cy="244.75" r="2.75" fill="#000"/>
<line x1="497.47" y1="244.4" x2="520.23" y2="244.4" stroke="#000" stroke-width="1"/>
<circle cx="508.85" cy="244.4" r="2.75" fill="#000"/>
<line x1="520.23" y1="250.35" x2="543" y2="250.35" stroke="#000" stroke-width="1"/>
<circle cx="531.62" cy="250.35" r="2.75" fill="#000"/>
<line x1="543" y1="248.25" x2="565.77" y2="248.25" stroke="#000" stroke-width="1"/>
<circle cx="554.38" cy="248.25" r="2.75" fill="#000"/>
<line x1="565.77" y1="246.85" x2="588.53" y2="246.85" stroke="#000" stroke-width="1"/>
<circle cx="577.15" cy="246.85" r="2.75" fill="#000"/>
<line x1="588.53" y1="243" x2="611.3" y2="243" stroke="#000" stroke-width="1"/>
<circle cx="599.92" cy="243" r="2.75" fill="#000"/>
<line x1="611.3" y1="244.4" x2="634.07" y2="244.4" stroke="#000" stroke-width="1"/>
<circle cx="622.68" cy="244.4" r="2.75" fill="#000"/>
<line x1="634.07" y1="246.15" x2="656.83" y2="246.15" stroke="#000" stroke-width="1"/>
<circle cx="645.45" cy="246.15" r="2.75" fill="#000"/>
<path d="M406.4,194.5 v-5 M406.4,0.5 v5 M406.4,281.5 v-2.5 M406.4,211.5 v2.5 M451.93,194.5 v-5 M451.93,0.5 v5 M451.93,281.5 v-2.5 M451.93,211.5 v2.5 M497.47,194.5 v-5 M497.47,0.5 v5 M497.47,281.5 v-2.5 M497.47,211.5 v2.5 M543,194.5 v-5 M543,0.5 v5 M543,281.5 v-2.5 M543,211.5 v2.5 M588.53,194.5 v-5 M588.53,0.5 v5 M588.53,281.5 v-2.5 M588.53,211.5 v2.5 M634.07,194.5 v-5 M634.07,0.5 v5 M634.07,281.5 v-2.5 M634.07,211.5 v2.5 M679.6,194.5 v-5 M679.6,0.5 v5 M679.6,281.5 v-2.5 M679.6,211.5 v2.5 M415.51,194.5 v-2.5 M415.51,0.5 v2.5 M415.51,281.5 v-1.3 M415.51,211.5 v1.3 M424.61,194.5 v-2.5 M424.61,0.5 v2.5 M424.61,281.5 v-1.3 M424.61,211.5 v1.3 M433.72,194.5 v-2.5 M433.72,0.5 v2.5 M433.72,281.5 v-1.3 M433.72,211.5 v1.3 M442.83,194.5 v-2.5 M442.83,0.5 v2.5 M442.83,281.5 v-1.3 M442.83,211.5 v1.3 M461.04,194.5 v-2.5 M461.04,0.5 v2.5 M461.04,281.5 v-1.3 M461.04,211.5 v1.3 M470.15,194.5 v-2.5 M470.15,0.5 v2.5 M470.15,281.5 v-1.3 M470.15,211.5 v1.3 M479.25,194.5 v-2.5 M479.25,0.5 v2.5 M479.25,281.5 v-1.3 M479.25,211.5 v1.3 M488.36,194.5 v-2.5 M488.36,0.5 v2.5 M488.36,281.5 v-1.3 M488.36,211.5 v1.3 M506.57,194.5 v-2.5 M506.57,0.5 v2.5 M506.57,281.5 v-1.3 M506.57,211.5 v1.3 M515.68,194.5 v-2.5 M515.68,0.5 v2.5 M515.68,281.5 v-1.3 M515.68,211.5 v1.3 M524.79,194.5 v-2.5 M524.79,0.5 v2.5 M524.79,281.5 v-1.3 M524.79,211.5 v1.3 M533.89,194.5 v-2.5 M533.89,0.5 v2.5 M533.89,281.5 v-1.3 M533.89,211.5 v1.3 M552.11,194.5 v-2.5 M552.11,0.5 v2.5 M552.11,281.5 v-1.3 M552.11,211.5 v1.3 M561.21,194.5 v-2.5 M561.21,0.5 v2.5 M561.21,281.5 v-1.3 M561.21,211.5 v1.3 M570.32,194.5 v-2.5 M570.32,0.5 v2.5 M570.32,281.5 v-1.3 M570.32,211.5 v1.3 M579.43,194.5 v-2.5 M579.43,0.5 v2.5 M579.43,281.5 v-1.3 M579.43,211.5 v1.3 M597.64,194.5 v-2.5 M597.64,0.5 v2.5 M597.64,281.5 v-1.3 M597.64,211.5 v1.3 M606.75,194.5 v-2.5 M606.75,0.5 v2.5 M606.75,281.5 v-1.3 M606.75,211.5 v1.3 M615.85,194.5 v-2.5 M615.85,0.5 v2.5 M615.85,281.5 v-1.3 M615.85,211.5 v1.3 M624.96,194.5 v-2.5 M624.96,0.5 v2.5 M624.96,281.5 v-1.3 M624.96,211.5 v1.3 M643.17,194.5 v-2.5 M643.17,0.5 v2.5 M643.17,281.5 v-1.3 M643.17,211.5 v1.3 M652.28,194.5 v-2.5 M652.28,0.5 v2.5 M652.28,281.5 v-1.3 M652.28,211.5 v1.3 M661.39,194.5 v-2.5 M661.39,0.5 v2.5 M661.39,281.5 v-1.3 M661.39,211.5 v1.3 M670.49,194.5 v-2.5 M670.49,0.5 v2.5 M670.49,281.5 v-1.3 M670.49,211.5 v1.3 M406.4,161.05 h8.5 M679.6,161.05 h-8.5 M406.4,127.6 h8.5 M679.6,127.6 h-8.5 M406.4,94.16 h8.5 M679.6,94.16 h-8.5 M406.4,60.71 h8.5 M679.6,60.71 h-8.5 M406.4,27.26 h8.5 M679.6,27.26 h-8.5 M406.4,187.81 h4.5 M679.6,187.81 h-4.5 M406.4,181.12 h4.5 M679.6,181.12 h-4.5 M406.4,174.43 h4.5 M679.6,174.43 h-4.5 M406.4,167.74 h4.5 M679.6,167.74 h-4.5 M406.4,154.36 h4.5 M679.6,154.36 h-4.5 M406.4,147.67 h4.5 M679.6,147.67 h-4.5 M406.4,140.98 h4.5 M679.6,140.98 h-4.5 M406.4,134.29 h4.5 M679.6,134.29 h-4.5 M406.4,120.91 h4.5 M679.6,120.91 h-4.5 M406.4,114.22 h4.5 M679.6,114.22 h-4.5 M406.4,107.53 h4.5 M679.6,107.53 h-4.5 M406.4,100.84 h4.5 M679.6,100.84 h-4.5 M406.4,87.47 h4.5 M679.6,87.47 h-4.5 M406.4,80.78 h4.5 M679.6,80.78 h-4.5 M406.4,74.09 h4.5 M679.6,74.09 h-4.5 M406.4,67.4 h4.5 M679.6,67.4 h-4.5 M406.4,54.02 h4.5 M679.6,54.02 h-4.5 M406.4,47.33 h4.5 M679.6,47.33 h-4.5 M406.4,40.64 h4.5 M679.6,40.64 h-4.5 M406.4,33.95 h4.5 M679.6,33.95 h-4.5 M406.4,20.57 h4.5 M679.6,20.57 h-4.5 M406.4,13.88 h4.5 M679.6,13.88 h-4.5 M406.4,7.19 h4.5 M679.6,7.19 h-4.5 M406.4,278 h3 M679.6,278 h-3 M406.4,274.5 h3 M679.6,274.5 h-3 M406.4,271 h3 M679.6,271 h-3 M406.4,267.5 h3 M679.6,267.5 h-3 M406.4,264 h6 M679.6,264 h-6 M406.4,260.5 h3 M679.6,260.5 h-3 M406.4,257 h3 M679.6,257 h-3 M406.4,253.5 h3 M679.6,253.5 h-3 M406.4,250 h3 M679.6,250 h-3 M406.4,246.5 h6 M679.6,246.5 h-6 M406.4,243 h3 M679.6,243 h-3 M406.4,239.5 h3 M679.6,239.5 h-3 M406.4,236 h3 M679.6,236 h-3 M406.4,232.5 h3 M679.6,232.5 h-3 M406.4,229 h6 M679.6,229 h-6 M406.4,225.5 h3 M679.6,225.5 h-3 M406.4,222 h3 M679.6,222 h-3 M406.4,218.5 h3 M679.6,218.5 h-3 M406.4,215 h3 M679.6,215 h-3" stroke="#333" stroke-width="0.9" fill="none"/>
<rect x="406.4" y="0.5" width="273.2" height="194" fill="none" stroke="#3a3a3a" stroke-width="1"/>
<rect x="406.4" y="211.5" width="273.2" height="70" fill="none" stroke="#3a3a3a" stroke-width="1"/>
<text x="406.4" y="290.9" font-size="10.2" text-anchor="middle" font-weight="normal" font-style="normal" fill="#111">&#8722;3</text>
<text x="451.93" y="290.9" font-size="10.2" text-anchor="middle" font-weight="normal" font-style="normal" fill="#111">&#8722;2</text>
<text x="497.47" y="290.9" font-size="10.2" text-anchor="middle" font-weight="normal" font-style="normal" fill="#111">&#8722;1</text>
<text x="543" y="290.9" font-size="10.2" text-anchor="middle" font-weight="normal" font-style="normal" fill="#111">0</text>
<text x="588.53" y="290.9" font-size="10.2" text-anchor="middle" font-weight="normal" font-style="normal" fill="#111">1</text>
<text x="634.07" y="290.9" font-size="10.2" text-anchor="middle" font-weight="normal" font-style="normal" fill="#111">2</text>
<text x="679.6" y="290.9" font-size="10.2" text-anchor="middle" font-weight="normal" font-style="normal" fill="#111">3</text>
<text x="402.2" y="197.9" font-size="9.7" text-anchor="end" font-weight="normal" font-style="normal" fill="#111">0</text>
<text x="402.2" y="164.45" font-size="9.7" text-anchor="end" font-weight="normal" font-style="normal" fill="#111">500</text>
<text x="402.2" y="131" font-size="9.7" text-anchor="end" font-weight="normal" font-style="normal" fill="#111">1000</text>
<text x="402.2" y="97.56" font-size="9.7" text-anchor="end" font-weight="normal" font-style="normal" fill="#111">1500</text>
<text x="402.2" y="64.11" font-size="9.7" text-anchor="end" font-weight="normal" font-style="normal" fill="#111">2000</text>
<text x="402.2" y="30.66" font-size="9.7" text-anchor="end" font-weight="normal" font-style="normal" fill="#111">2500</text>
<text x="402.4" y="267.4" font-size="9.7" text-anchor="end" font-weight="normal" font-style="normal" fill="#111">0.5</text>
<text x="402.4" y="249.9" font-size="9.7" text-anchor="end" font-weight="normal" font-style="normal" fill="#111">1</text>
<text x="402.4" y="232.4" font-size="9.7" text-anchor="end" font-weight="normal" font-style="normal" fill="#111">1.5</text>
<text x="402.4" y="214.9" font-size="9.7" text-anchor="end" font-weight="normal" font-style="normal" fill="#111">2</text>
<path d="M94.58,548.5 L94.58,461.28 L140.11,461.28 L140.11,547.47 L185.64,547.47 L185.64,530.64 L231.18,530.64 L231.18,548.5 Z" fill="#3399ff"/>
<path d="M94.58,548.5 L94.58,536.32 L140.11,536.32 L140.11,548.33 L185.64,548.33 L185.64,548.21 L231.18,548.21 L231.18,548.5 Z" fill="#cccc00"/>
<path d="M94.58,548.5 L94.58,538.8 L140.11,538.8 L140.11,548.39 L185.64,548.39 L185.64,548.27 L231.18,548.27 L231.18,548.5 Z" fill="#66cc66"/>
<path d="M94.58,548.5 L94.58,536.32 L140.11,536.32 L140.11,548.33 L185.64,548.33 L185.64,548.21 L231.18,548.21 L231.18,548.5" fill="none" stroke="#4a5a30" stroke-width="0.5"/>
<path d="M94.58,548.5 L94.58,538.8 L140.11,538.8 L140.11,548.39 L185.64,548.39 L185.64,548.27 L231.18,548.27 L231.18,548.5" fill="none" stroke="#000" stroke-width="1.0"/>
<path d="M94.58,548.5 L94.58,461.28 L140.11,461.28 L140.11,547.47 L185.64,547.47 L185.64,530.64 L231.18,530.64 L231.18,548.5" fill="none" stroke="#000" stroke-width="1.2"/>
<rect x="94.58" y="460.6" width="45.53" height="1.37" fill="url(#hC)"/>
<rect x="140.11" y="547.36" width="45.53" height="0.23" fill="url(#hC)"/>
<rect x="185.64" y="530.3" width="45.53" height="0.68" fill="url(#hC)"/>
<line x1="94.58" y1="461.77" x2="140.11" y2="461.77" stroke="#000" stroke-width="1"/>
<circle cx="117.34" cy="461.77" r="2.9" fill="#000"/>
<line x1="140.11" y1="547.47" x2="185.64" y2="547.47" stroke="#000" stroke-width="1"/>
<circle cx="162.88" cy="547.47" r="2.9" fill="#000"/>
<line x1="185.64" y1="530.14" x2="231.18" y2="530.14" stroke="#000" stroke-width="1"/>
<circle cx="208.41" cy="530.14" r="2.9" fill="#000"/>
<rect x="94.58" y="599.58" width="45.53" height="0.85" fill="url(#rp_c)"/>
<rect x="140.11" y="593.98" width="45.53" height="12.04" fill="url(#rp_c)"/>
<rect x="185.64" y="599.58" width="45.53" height="0.85" fill="url(#rp_c)"/>
<line x1="49.5" y1="600" x2="322.7" y2="600" stroke="#ff5050" stroke-width="0.8" stroke-dasharray="2.5,1.3"/>
<line x1="94.58" y1="600" x2="140.11" y2="600" stroke="#000" stroke-width="1"/>
<circle cx="117.34" cy="600" r="2.75" fill="#000"/>
<line x1="140.11" y1="604.96" x2="185.64" y2="604.96" stroke="#000" stroke-width="1"/>
<circle cx="162.88" cy="604.96" r="2.75" fill="#000"/>
<line x1="185.64" y1="600" x2="231.18" y2="600" stroke="#000" stroke-width="1"/>
<circle cx="208.41" cy="600" r="2.75" fill="#000"/>
<path d="M71.81,548.5 v-5 M71.81,354.5 v5 M71.81,635.4 v-2.5 M71.81,564.6 v2.5 M117.34,548.5 v-5 M117.34,354.5 v5 M117.34,635.4 v-2.5 M117.34,564.6 v2.5 M162.88,548.5 v-5 M162.88,354.5 v5 M162.88,635.4 v-2.5 M162.88,564.6 v2.5 M208.41,548.5 v-5 M208.41,354.5 v5 M208.41,635.4 v-2.5 M208.41,564.6 v2.5 M253.94,548.5 v-5 M253.94,354.5 v5 M253.94,635.4 v-2.5 M253.94,564.6 v2.5 M299.48,548.5 v-5 M299.48,354.5 v5 M299.48,635.4 v-2.5 M299.48,564.6 v2.5 M49.5,525.68 h8.5 M322.7,525.68 h-8.5 M49.5,502.85 h8.5 M322.7,502.85 h-8.5 M49.5,480.03 h8.5 M322.7,480.03 h-8.5 M49.5,457.21 h8.5 M322.7,457.21 h-8.5 M49.5,434.38 h8.5 M322.7,434.38 h-8.5 M49.5,411.56 h8.5 M322.7,411.56 h-8.5 M49.5,388.74 h8.5 M322.7,388.74 h-8.5 M49.5,365.91 h8.5 M322.7,365.91 h-8.5 M49.5,542.79 h4.5 M322.7,542.79 h-4.5 M49.5,537.09 h4.5 M322.7,537.09 h-4.5 M49.5,531.38 h4.5 M322.7,531.38 h-4.5 M49.5,519.97 h4.5 M322.7,519.97 h-4.5 M49.5,514.26 h4.5 M322.7,514.26 h-4.5 M49.5,508.56 h4.5 M322.7,508.56 h-4.5 M49.5,497.15 h4.5 M322.7,497.15 h-4.5 M49.5,491.44 h4.5 M322.7,491.44 h-4.5 M49.5,485.74 h4.5 M322.7,485.74 h-4.5 M49.5,474.32 h4.5 M322.7,474.32 h-4.5 M49.5,468.62 h4.5 M322.7,468.62 h-4.5 M49.5,462.91 h4.5 M322.7,462.91 h-4.5 M49.5,451.5 h4.5 M322.7,451.5 h-4.5 M49.5,445.79 h4.5 M322.7,445.79 h-4.5 M49.5,440.09 h4.5 M322.7,440.09 h-4.5 M49.5,428.68 h4.5 M322.7,428.68 h-4.5 M49.5,422.97 h4.5 M322.7,422.97 h-4.5 M49.5,417.26 h4.5 M322.7,417.26 h-4.5 M49.5,405.85 h4.5 M322.7,405.85 h-4.5 M49.5,400.15 h4.5 M322.7,400.15 h-4.5 M49.5,394.44 h4.5 M322.7,394.44 h-4.5 M49.5,383.03 h4.5 M322.7,383.03 h-4.5 M49.5,377.32 h4.5 M322.7,377.32 h-4.5 M49.5,371.62 h4.5 M322.7,371.62 h-4.5 M49.5,360.21 h4.5 M322.7,360.21 h-4.5 M49.5,631.86 h3 M322.7,631.86 h-3 M49.5,628.32 h3 M322.7,628.32 h-3 M49.5,624.78 h3 M322.7,624.78 h-3 M49.5,621.24 h3 M322.7,621.24 h-3 M49.5,617.7 h6 M322.7,617.7 h-6 M49.5,614.16 h3 M322.7,614.16 h-3 M49.5,610.62 h3 M322.7,610.62 h-3 M49.5,607.08 h3 M322.7,607.08 h-3 M49.5,603.54 h3 M322.7,603.54 h-3 M49.5,600 h6 M322.7,600 h-6 M49.5,596.46 h3 M322.7,596.46 h-3 M49.5,592.92 h3 M322.7,592.92 h-3 M49.5,589.38 h3 M322.7,589.38 h-3 M49.5,585.84 h3 M322.7,585.84 h-3 M49.5,582.3 h6 M322.7,582.3 h-6 M49.5,578.76 h3 M322.7,578.76 h-3 M49.5,575.22 h3 M322.7,575.22 h-3 M49.5,571.68 h3 M322.7,571.68 h-3 M49.5,568.14 h3 M322.7,568.14 h-3" stroke="#333" stroke-width="0.9" fill="none"/>
<rect x="49.5" y="354.5" width="273.2" height="194" fill="none" stroke="#3a3a3a" stroke-width="1"/>
<rect x="49.5" y="564.6" width="273.2" height="70.8" fill="none" stroke="#3a3a3a" stroke-width="1"/>
<text x="71.81" y="646" font-size="8.8" text-anchor="middle" font-weight="normal" font-style="normal" fill="#111">0</text>
<text x="117.34" y="646" font-size="8.8" text-anchor="middle" font-weight="normal" font-style="normal" fill="#111">1</text>
<text x="162.88" y="646" font-size="8.8" text-anchor="middle" font-weight="normal" font-style="normal" fill="#111">2</text>
<text x="208.41" y="646" font-size="8.8" text-anchor="middle" font-weight="normal" font-style="normal" fill="#111">3</text>
<text x="253.94" y="646" font-size="8.8" text-anchor="middle" font-weight="normal" font-style="normal" fill="#111">4</text>
<text x="299.48" y="646" font-size="8.8" text-anchor="middle" font-weight="normal" font-style="normal" fill="#111">5</text>
<text x="45.3" y="551.9" font-size="9.7" text-anchor="end" font-weight="normal" font-style="normal" fill="#111">0</text>
<text x="45.3" y="529.08" font-size="9.7" text-anchor="end" font-weight="normal" font-style="normal" fill="#111">2000</text>
<text x="45.3" y="506.25" font-size="9.7" text-anchor="end" font-weight="normal" font-style="normal" fill="#111">4000</text>
<text x="45.3" y="483.43" font-size="9.7" text-anchor="end" font-weight="normal" font-style="normal" fill="#111">6000</text>
<text x="45.3" y="460.61" font-size="9.7" text-anchor="end" font-weight="normal" font-style="normal" fill="#111">8000</text>
<text x="45.3" y="437.78" font-size="9.7" text-anchor="end" font-weight="normal" font-style="normal" fill="#111">10000</text>
<text x="45.3" y="414.96" font-size="9.7" text-anchor="end" font-weight="normal" font-style="normal" fill="#111">12000</text>
<text x="45.3" y="392.14" font-size="9.7" text-anchor="end" font-weight="normal" font-style="normal" fill="#111">14000</text>
<text x="45.3" y="369.31" font-size="9.7" text-anchor="end" font-weight="normal" font-style="normal" fill="#111">16000</text>
<text x="45.5" y="621.1" font-size="9.7" text-anchor="end" font-weight="normal" font-style="normal" fill="#111">0.5</text>
<text x="45.5" y="603.4" font-size="9.7" text-anchor="end" font-weight="normal" font-style="normal" fill="#111">1</text>
<text x="45.5" y="585.7" font-size="9.7" text-anchor="end" font-weight="normal" font-style="normal" fill="#111">1.5</text>
<text x="45.5" y="568" font-size="9.7" text-anchor="end" font-weight="normal" font-style="normal" fill="#111">2</text>
<path d="M417.33,548.5 L417.33,547.36 L428.26,547.36 L428.26,548.04 L439.2,548.04 L439.2,547.59 L450.13,547.59 L450.13,545.88 L461.06,545.88 L461.06,544.16 L471.99,544.16 L471.99,534.92 L482.92,534.92 L482.92,529.56 L493.86,529.56 L493.86,521 L504.79,521 L504.79,502.51 L515.72,502.51 L515.72,471.24 L526.65,471.24 L526.65,450.59 L537.58,450.59 L537.58,446.25 L548.52,446.25 L548.52,446.48 L559.45,446.48 L559.45,436.78 L570.38,436.78 L570.38,457.89 L581.31,457.89 L581.31,476.61 L592.24,476.61 L592.24,490.64 L603.18,490.64 L603.18,477.63 L614.11,477.63 L614.11,478.09 L625.04,478.09 L625.04,503.88 L635.97,503.88 L635.97,522.14 L646.9,522.14 L646.9,522.71 L657.84,522.71 L657.84,541.77 L668.77,541.77 L668.77,548.5 Z" fill="#3399ff"/>
<path d="M417.33,548.5 L417.33,548.5 L428.26,548.5 L428.26,548.5 L439.2,548.5 L439.2,548.5 L450.13,548.5 L450.13,548.16 L461.06,548.16 L461.06,547.47 L471.99,547.47 L471.99,541.31 L482.92,541.31 L482.92,543.48 L493.86,543.48 L493.86,542.57 L504.79,542.57 L504.79,538.46 L515.72,538.46 L515.72,527.96 L526.65,527.96 L526.65,537.54 L537.58,537.54 L537.58,533.55 L548.52,533.55 L548.52,537.2 L559.45,537.2 L559.45,533.09 L570.38,533.09 L570.38,538.46 L581.31,538.46 L581.31,538.8 L592.24,538.8 L592.24,540.97 L603.18,540.97 L603.18,543.25 L614.11,543.25 L614.11,544.51 L625.04,544.51 L625.04,547.13 L635.97,547.13 L635.97,547.93 L646.9,547.93 L646.9,548.16 L657.84,548.16 L657.84,548.39 L668.77,548.39 L668.77,548.5 Z" fill="#cccc00"/>
<path d="M417.33,548.5 L417.33,548.5 L428.26,548.5 L428.26,548.5 L439.2,548.5 L439.2,548.5 L450.13,548.5 L450.13,548.16 L461.06,548.16 L461.06,547.59 L471.99,547.59 L471.99,541.54 L482.92,541.54 L482.92,543.71 L493.86,543.71 L493.86,542.79 L504.79,542.79 L504.79,538.69 L515.72,538.69 L515.72,528.42 L526.65,528.42 L526.65,538.91 L537.58,538.91 L537.58,533.78 L548.52,533.78 L548.52,538.91 L559.45,538.91 L559.45,535.83 L570.38,535.83 L570.38,544.96 L581.31,544.96 L581.31,544.51 L592.24,544.51 L592.24,544.96 L603.18,544.96 L603.18,546.56 L614.11,546.56 L614.11,546.79 L625.04,546.79 L625.04,547.93 L635.97,547.93 L635.97,548.27 L646.9,548.27 L646.9,548.39 L657.84,548.39 L657.84,548.5 L668.77,548.5 L668.77,548.5 Z" fill="#66cc66"/>
<path d="M417.33,548.5 L417.33,548.5 L428.26,548.5 L428.26,548.5 L439.2,548.5 L439.2,548.5 L450.13,548.5 L450.13,548.16 L461.06,548.16 L461.06,547.47 L471.99,547.47 L471.99,541.31 L482.92,541.31 L482.92,543.48 L493.86,543.48 L493.86,542.57 L504.79,542.57 L504.79,538.46 L515.72,538.46 L515.72,527.96 L526.65,527.96 L526.65,537.54 L537.58,537.54 L537.58,533.55 L548.52,533.55 L548.52,537.2 L559.45,537.2 L559.45,533.09 L570.38,533.09 L570.38,538.46 L581.31,538.46 L581.31,538.8 L592.24,538.8 L592.24,540.97 L603.18,540.97 L603.18,543.25 L614.11,543.25 L614.11,544.51 L625.04,544.51 L625.04,547.13 L635.97,547.13 L635.97,547.93 L646.9,547.93 L646.9,548.16 L657.84,548.16 L657.84,548.39 L668.77,548.39 L668.77,548.5" fill="none" stroke="#4a5a30" stroke-width="0.5"/>
<path d="M417.33,548.5 L417.33,548.5 L428.26,548.5 L428.26,548.5 L439.2,548.5 L439.2,548.5 L450.13,548.5 L450.13,548.16 L461.06,548.16 L461.06,547.59 L471.99,547.59 L471.99,541.54 L482.92,541.54 L482.92,543.71 L493.86,543.71 L493.86,542.79 L504.79,542.79 L504.79,538.69 L515.72,538.69 L515.72,528.42 L526.65,528.42 L526.65,538.91 L537.58,538.91 L537.58,533.78 L548.52,533.78 L548.52,538.91 L559.45,538.91 L559.45,535.83 L570.38,535.83 L570.38,544.96 L581.31,544.96 L581.31,544.51 L592.24,544.51 L592.24,544.96 L603.18,544.96 L603.18,546.56 L614.11,546.56 L614.11,546.79 L625.04,546.79 L625.04,547.93 L635.97,547.93 L635.97,548.27 L646.9,548.27 L646.9,548.39 L657.84,548.39 L657.84,548.5 L668.77,548.5 L668.77,548.5" fill="none" stroke="#000" stroke-width="1.0"/>
<path d="M417.33,548.5 L417.33,547.36 L428.26,547.36 L428.26,548.04 L439.2,548.04 L439.2,547.59 L450.13,547.59 L450.13,545.88 L461.06,545.88 L461.06,544.16 L471.99,544.16 L471.99,534.92 L482.92,534.92 L482.92,529.56 L493.86,529.56 L493.86,521 L504.79,521 L504.79,502.51 L515.72,502.51 L515.72,471.24 L526.65,471.24 L526.65,450.59 L537.58,450.59 L537.58,446.25 L548.52,446.25 L548.52,446.48 L559.45,446.48 L559.45,436.78 L570.38,436.78 L570.38,457.89 L581.31,457.89 L581.31,476.61 L592.24,476.61 L592.24,490.64 L603.18,490.64 L603.18,477.63 L614.11,477.63 L614.11,478.09 L625.04,478.09 L625.04,503.88 L635.97,503.88 L635.97,522.14 L646.9,522.14 L646.9,522.71 L657.84,522.71 L657.84,541.77 L668.77,541.77 L668.77,548.5" fill="none" stroke="#000" stroke-width="1.2"/>
<rect x="417.33" y="546.79" width="10.93" height="1.14" fill="url(#hD)"/>
<rect x="428.26" y="547.59" width="10.93" height="0.91" fill="url(#hD)"/>
<rect x="439.2" y="547.02" width="10.93" height="1.14" fill="url(#hD)"/>
<rect x="450.13" y="544.96" width="10.93" height="1.83" fill="url(#hD)"/>
<rect x="461.06" y="543.02" width="10.93" height="2.28" fill="url(#hD)"/>
<rect x="471.99" y="532.87" width="10.93" height="4.11" fill="url(#hD)"/>
<rect x="482.92" y="527.05" width="10.93" height="5.02" fill="url(#hD)"/>
<rect x="493.86" y="517.8" width="10.93" height="6.39" fill="url(#hD)"/>
<rect x="504.79" y="497.95" width="10.93" height="9.13" fill="url(#hD)"/>
<rect x="515.72" y="465.54" width="10.93" height="11.41" fill="url(#hD)"/>
<rect x="526.65" y="443.63" width="10.93" height="13.92" fill="url(#hD)"/>
<rect x="537.58" y="439.97" width="10.93" height="12.55" fill="url(#hD)"/>
<rect x="548.52" y="440.2" width="10.93" height="12.55" fill="url(#hD)"/>
<rect x="559.45" y="430.5" width="10.93" height="12.55" fill="url(#hD)"/>
<rect x="570.38" y="452.18" width="10.93" height="11.41" fill="url(#hD)"/>
<rect x="581.31" y="471.13" width="10.93" height="10.96" fill="url(#hD)"/>
<rect x="592.24" y="485.05" width="10.93" height="11.18" fill="url(#hD)"/>
<rect x="603.18" y="472.5" width="10.93" height="10.27" fill="url(#hD)"/>
<rect x="614.11" y="472.95" width="10.93" height="10.27" fill="url(#hD)"/>
<rect x="625.04" y="499.89" width="10.93" height="7.99" fill="url(#hD)"/>
<rect x="635.97" y="518.94" width="10.93" height="6.39" fill="url(#hD)"/>
<rect x="646.9" y="519.51" width="10.93" height="6.39" fill="url(#hD)"/>
<rect x="657.84" y="540.06" width="10.93" height="3.42" fill="url(#hD)"/>
<line x1="417.33" y1="548.16" x2="428.26" y2="548.16" stroke="#000" stroke-width="1"/>
<circle cx="422.8" cy="548.16" r="2.9" fill="#000"/>
<line x1="428.26" y1="547.24" x2="439.2" y2="547.24" stroke="#000" stroke-width="1"/>
<circle cx="433.73" cy="547.24" r="2.9" fill="#000"/>
<line x1="439.2" y1="546.45" x2="450.13" y2="546.45" stroke="#000" stroke-width="1"/>
<circle cx="444.66" cy="546.45" r="2.9" fill="#000"/>
<line x1="450.13" y1="545.3" x2="461.06" y2="545.3" stroke="#000" stroke-width="1"/>
<circle cx="455.59" cy="545.3" r="2.9" fill="#000"/>
<line x1="461.06" y1="543.48" x2="471.99" y2="543.48" stroke="#000" stroke-width="1"/>
<circle cx="466.53" cy="543.48" r="2.9" fill="#000"/>
<line x1="471.99" y1="536.18" x2="482.92" y2="536.18" stroke="#000" stroke-width="1"/>
<circle cx="477.46" cy="536.18" r="2.9" fill="#000"/>
<line x1="482.92" y1="531.84" x2="493.86" y2="531.84" stroke="#000" stroke-width="1"/>
<circle cx="488.39" cy="531.84" r="2.9" fill="#000"/>
<line x1="493.86" y1="519.06" x2="504.79" y2="519.06" stroke="#000" stroke-width="1"/>
<circle cx="499.32" cy="519.06" r="2.9" fill="#000"/>
<line x1="504.79" y1="500.11" x2="515.72" y2="500.11" stroke="#000" stroke-width="1"/>
<circle cx="510.25" cy="500.11" r="2.9" fill="#000"/>
<line x1="515.72" y1="483" x2="526.65" y2="483" stroke="#000" stroke-width="1"/>
<circle cx="521.19" cy="483" r="2.9" fill="#000"/>
<line x1="526.65" y1="447.16" x2="537.58" y2="447.16" stroke="#000" stroke-width="1"/>
<circle cx="532.12" cy="447.16" r="2.9" fill="#000"/>
<line x1="537.58" y1="445.68" x2="548.52" y2="445.68" stroke="#000" stroke-width="1"/>
<circle cx="543.05" cy="445.68" r="2.9" fill="#000"/>
<line x1="548.52" y1="438.95" x2="559.45" y2="438.95" stroke="#000" stroke-width="1"/>
<circle cx="553.98" cy="438.95" r="2.9" fill="#000"/>
<line x1="559.45" y1="440.66" x2="570.38" y2="440.66" stroke="#000" stroke-width="1"/>
<circle cx="564.91" cy="440.66" r="2.9" fill="#000"/>
<line x1="570.38" y1="457.55" x2="581.31" y2="457.55" stroke="#000" stroke-width="1"/>
<circle cx="575.85" cy="457.55" r="2.9" fill="#000"/>
<line x1="581.31" y1="477.29" x2="592.24" y2="477.29" stroke="#000" stroke-width="1"/>
<circle cx="586.78" cy="477.29" r="2.9" fill="#000"/>
<line x1="592.24" y1="483.91" x2="603.18" y2="483.91" stroke="#000" stroke-width="1"/>
<circle cx="597.71" cy="483.91" r="2.9" fill="#000"/>
<line x1="603.18" y1="480.83" x2="614.11" y2="480.83" stroke="#000" stroke-width="1"/>
<circle cx="608.64" cy="480.83" r="2.9" fill="#000"/>
<line x1="614.11" y1="481.74" x2="625.04" y2="481.74" stroke="#000" stroke-width="1"/>
<circle cx="619.57" cy="481.74" r="2.9" fill="#000"/>
<line x1="625.04" y1="513.01" x2="635.97" y2="513.01" stroke="#000" stroke-width="1"/>
<circle cx="630.51" cy="513.01" r="2.9" fill="#000"/>
<line x1="635.97" y1="516.89" x2="646.9" y2="516.89" stroke="#000" stroke-width="1"/>
<circle cx="641.44" cy="516.89" r="2.9" fill="#000"/>
<line x1="646.9" y1="525.45" x2="657.84" y2="525.45" stroke="#000" stroke-width="1"/>
<circle cx="652.37" cy="525.45" r="2.9" fill="#000"/>
<line x1="657.84" y1="540.97" x2="668.77" y2="540.97" stroke="#000" stroke-width="1"/>
<circle cx="663.3" cy="540.97" r="2.9" fill="#000"/>
<rect x="417.33" y="574.87" width="10.93" height="60.53" fill="url(#rp_d)"/>
<rect x="428.26" y="564.6" width="10.93" height="70.8" fill="url(#rp_d)"/>
<rect x="439.2" y="583.89" width="10.93" height="32.21" fill="url(#rp_d)"/>
<rect x="450.13" y="584.07" width="10.93" height="31.86" fill="url(#rp_d)"/>
<rect x="461.06" y="584.07" width="10.93" height="31.86" fill="url(#rp_d)"/>
<rect x="471.99" y="591.15" width="10.93" height="17.7" fill="url(#rp_d)"/>
<rect x="482.92" y="595.4" width="10.93" height="9.2" fill="url(#rp_d)"/>
<rect x="493.86" y="595.75" width="10.93" height="8.5" fill="url(#rp_d)"/>
<rect x="504.79" y="595.75" width="10.93" height="8.5" fill="url(#rp_d)"/>
<rect x="515.72" y="596.46" width="10.93" height="7.08" fill="url(#rp_d)"/>
<rect x="526.65" y="596.81" width="10.93" height="6.37" fill="url(#rp_d)"/>
<rect x="537.58" y="596.99" width="10.93" height="6.02" fill="url(#rp_d)"/>
<rect x="548.52" y="596.99" width="10.93" height="6.02" fill="url(#rp_d)"/>
<rect x="559.45" y="596.99" width="10.93" height="6.02" fill="url(#rp_d)"/>
<rect x="570.38" y="596.99" width="10.93" height="6.02" fill="url(#rp_d)"/>
<rect x="581.31" y="596.99" width="10.93" height="6.02" fill="url(#rp_d)"/>
<rect x="592.24" y="596.99" width="10.93" height="6.02" fill="url(#rp_d)"/>
<rect x="603.18" y="596.99" width="10.93" height="6.02" fill="url(#rp_d)"/>
<rect x="614.11" y="596.99" width="10.93" height="6.02" fill="url(#rp_d)"/>
<rect x="625.04" y="596.81" width="10.93" height="6.37" fill="url(#rp_d)"/>
<rect x="635.97" y="596.81" width="10.93" height="6.37" fill="url(#rp_d)"/>
<rect x="646.9" y="596.46" width="10.93" height="7.08" fill="url(#rp_d)"/>
<rect x="657.84" y="591.86" width="10.93" height="16.28" fill="url(#rp_d)"/>
<line x1="406.4" y1="600" x2="679.7" y2="600" stroke="#ff0000" stroke-width="1.4" stroke-dasharray="1.4,2.1"/>
<line x1="417.33" y1="625.13" x2="428.26" y2="625.13" stroke="#000" stroke-width="1"/>
<line x1="422.8" y1="564.6" x2="422.8" y2="635.4" stroke="#000" stroke-width="1"/>
<circle cx="422.8" cy="625.13" r="2.75" fill="#000"/>
<line x1="433.73" y1="569.4" x2="433.73" y2="575.9" stroke="#7070ff" stroke-width="1.3"/>
<path d="M433.73,564.9 L430.53,570.1 L436.93,570.1 Z" fill="#0000ff"/>
<line x1="444.66" y1="569.4" x2="444.66" y2="575.9" stroke="#7070ff" stroke-width="1.3"/>
<path d="M444.66,564.9 L441.46,570.1 L447.86,570.1 Z" fill="#0000ff"/>
<line x1="450.13" y1="591.86" x2="461.06" y2="591.86" stroke="#000" stroke-width="1"/>
<line x1="455.59" y1="584.78" x2="455.59" y2="598.94" stroke="#000" stroke-width="1"/>
<circle cx="455.59" cy="591.86" r="2.75" fill="#000"/>
<line x1="461.06" y1="593.98" x2="471.99" y2="593.98" stroke="#000" stroke-width="1"/>
<line x1="466.53" y1="588.67" x2="466.53" y2="599.29" stroke="#000" stroke-width="1"/>
<circle cx="466.53" cy="593.98" r="2.75" fill="#000"/>
<line x1="471.99" y1="603.19" x2="482.92" y2="603.19" stroke="#000" stroke-width="1"/>
<line x1="477.46" y1="601.42" x2="477.46" y2="604.96" stroke="#000" stroke-width="1"/>
<circle cx="477.46" cy="603.19" r="2.75" fill="#000"/>
<line x1="482.92" y1="604.25" x2="493.86" y2="604.25" stroke="#000" stroke-width="1"/>
<line x1="488.39" y1="602.48" x2="488.39" y2="606.02" stroke="#000" stroke-width="1"/>
<circle cx="488.39" cy="604.25" r="2.75" fill="#000"/>
<line x1="493.86" y1="597.88" x2="504.79" y2="597.88" stroke="#000" stroke-width="1"/>
<line x1="499.32" y1="596.11" x2="499.32" y2="599.65" stroke="#000" stroke-width="1"/>
<circle cx="499.32" cy="597.88" r="2.75" fill="#000"/>
<line x1="504.79" y1="598.23" x2="515.72" y2="598.23" stroke="#000" stroke-width="1"/>
<line x1="510.25" y1="596.46" x2="510.25" y2="600" stroke="#000" stroke-width="1"/>
<circle cx="510.25" cy="598.23" r="2.75" fill="#000"/>
<line x1="515.72" y1="605.31" x2="526.65" y2="605.31" stroke="#000" stroke-width="1"/>
<circle cx="521.19" cy="605.31" r="2.75" fill="#000"/>
<line x1="526.65" y1="598.58" x2="537.58" y2="598.58" stroke="#000" stroke-width="1"/>
<circle cx="532.12" cy="598.58" r="2.75" fill="#000"/>
<line x1="537.58" y1="600" x2="548.52" y2="600" stroke="#000" stroke-width="1"/>
<circle cx="543.05" cy="600" r="2.75" fill="#000"/>
<line x1="548.52" y1="597.17" x2="559.45" y2="597.17" stroke="#000" stroke-width="1"/>
<circle cx="553.98" cy="597.17" r="2.75" fill="#000"/>
<line x1="559.45" y1="601.06" x2="570.38" y2="601.06" stroke="#000" stroke-width="1"/>
<circle cx="564.91" cy="601.06" r="2.75" fill="#000"/>
<line x1="570.38" y1="599.29" x2="581.31" y2="599.29" stroke="#000" stroke-width="1"/>
<circle cx="575.85" cy="599.29" r="2.75" fill="#000"/>
<line x1="581.31" y1="600" x2="592.24" y2="600" stroke="#000" stroke-width="1"/>
<circle cx="586.78" cy="600" r="2.75" fill="#000"/>
<line x1="592.24" y1="596.11" x2="603.18" y2="596.11" stroke="#000" stroke-width="1"/>
<circle cx="597.71" cy="596.11" r="2.75" fill="#000"/>
<line x1="603.18" y1="601.42" x2="614.11" y2="601.42" stroke="#000" stroke-width="1"/>
<circle cx="608.64" cy="601.42" r="2.75" fill="#000"/>
<line x1="614.11" y1="601.42" x2="625.04" y2="601.42" stroke="#000" stroke-width="1"/>
<circle cx="619.57" cy="601.42" r="2.75" fill="#000"/>
<line x1="625.04" y1="607.08" x2="635.97" y2="607.08" stroke="#000" stroke-width="1"/>
<circle cx="630.51" cy="607.08" r="2.75" fill="#000"/>
<line x1="635.97" y1="592.92" x2="646.9" y2="592.92" stroke="#000" stroke-width="1"/>
<circle cx="641.44" cy="592.92" r="2.75" fill="#000"/>
<line x1="646.9" y1="603.19" x2="657.84" y2="603.19" stroke="#000" stroke-width="1"/>
<circle cx="652.37" cy="603.19" r="2.75" fill="#000"/>
<line x1="657.84" y1="596.11" x2="668.77" y2="596.11" stroke="#000" stroke-width="1"/>
<line x1="663.3" y1="591.86" x2="663.3" y2="600.35" stroke="#000" stroke-width="1"/>
<circle cx="663.3" cy="596.11" r="2.75" fill="#000"/>
<path d="M406.4,548.5 v-5 M406.4,354.5 v5 M406.4,635.4 v-2.5 M406.4,564.6 v2.5 M433.73,548.5 v-5 M433.73,354.5 v5 M433.73,635.4 v-2.5 M433.73,564.6 v2.5 M461.06,548.5 v-5 M461.06,354.5 v5 M461.06,635.4 v-2.5 M461.06,564.6 v2.5 M488.39,548.5 v-5 M488.39,354.5 v5 M488.39,635.4 v-2.5 M488.39,564.6 v2.5 M515.72,548.5 v-5 M515.72,354.5 v5 M515.72,635.4 v-2.5 M515.72,564.6 v2.5 M543.05,548.5 v-5 M543.05,354.5 v5 M543.05,635.4 v-2.5 M543.05,564.6 v2.5 M570.38,548.5 v-5 M570.38,354.5 v5 M570.38,635.4 v-2.5 M570.38,564.6 v2.5 M597.71,548.5 v-5 M597.71,354.5 v5 M597.71,635.4 v-2.5 M597.71,564.6 v2.5 M625.04,548.5 v-5 M625.04,354.5 v5 M625.04,635.4 v-2.5 M625.04,564.6 v2.5 M652.37,548.5 v-5 M652.37,354.5 v5 M652.37,635.4 v-2.5 M652.37,564.6 v2.5 M679.7,548.5 v-5 M679.7,354.5 v5 M679.7,635.4 v-2.5 M679.7,564.6 v2.5 M411.87,548.5 v-2.5 M411.87,354.5 v2.5 M411.87,635.4 v-1.3 M411.87,564.6 v1.3 M417.33,548.5 v-2.5 M417.33,354.5 v2.5 M417.33,635.4 v-1.3 M417.33,564.6 v1.3 M422.8,548.5 v-2.5 M422.8,354.5 v2.5 M422.8,635.4 v-1.3 M422.8,564.6 v1.3 M428.26,548.5 v-2.5 M428.26,354.5 v2.5 M428.26,635.4 v-1.3 M428.26,564.6 v1.3 M439.2,548.5 v-2.5 M439.2,354.5 v2.5 M439.2,635.4 v-1.3 M439.2,564.6 v1.3 M444.66,548.5 v-2.5 M444.66,354.5 v2.5 M444.66,635.4 v-1.3 M444.66,564.6 v1.3 M450.13,548.5 v-2.5 M450.13,354.5 v2.5 M450.13,635.4 v-1.3 M450.13,564.6 v1.3 M455.59,548.5 v-2.5 M455.59,354.5 v2.5 M455.59,635.4 v-1.3 M455.59,564.6 v1.3 M466.53,548.5 v-2.5 M466.53,354.5 v2.5 M466.53,635.4 v-1.3 M466.53,564.6 v1.3 M471.99,548.5 v-2.5 M471.99,354.5 v2.5 M471.99,635.4 v-1.3 M471.99,564.6 v1.3 M477.46,548.5 v-2.5 M477.46,354.5 v2.5 M477.46,635.4 v-1.3 M477.46,564.6 v1.3 M482.92,548.5 v-2.5 M482.92,354.5 v2.5 M482.92,635.4 v-1.3 M482.92,564.6 v1.3 M493.86,548.5 v-2.5 M493.86,354.5 v2.5 M493.86,635.4 v-1.3 M493.86,564.6 v1.3 M499.32,548.5 v-2.5 M499.32,354.5 v2.5 M499.32,635.4 v-1.3 M499.32,564.6 v1.3 M504.79,548.5 v-2.5 M504.79,354.5 v2.5 M504.79,635.4 v-1.3 M504.79,564.6 v1.3 M510.25,548.5 v-2.5 M510.25,354.5 v2.5 M510.25,635.4 v-1.3 M510.25,564.6 v1.3 M521.19,548.5 v-2.5 M521.19,354.5 v2.5 M521.19,635.4 v-1.3 M521.19,564.6 v1.3 M526.65,548.5 v-2.5 M526.65,354.5 v2.5 M526.65,635.4 v-1.3 M526.65,564.6 v1.3 M532.12,548.5 v-2.5 M532.12,354.5 v2.5 M532.12,635.4 v-1.3 M532.12,564.6 v1.3 M537.58,548.5 v-2.5 M537.58,354.5 v2.5 M537.58,635.4 v-1.3 M537.58,564.6 v1.3 M548.52,548.5 v-2.5 M548.52,354.5 v2.5 M548.52,635.4 v-1.3 M548.52,564.6 v1.3 M553.98,548.5 v-2.5 M553.98,354.5 v2.5 M553.98,635.4 v-1.3 M553.98,564.6 v1.3 M559.45,548.5 v-2.5 M559.45,354.5 v2.5 M559.45,635.4 v-1.3 M559.45,564.6 v1.3 M564.91,548.5 v-2.5 M564.91,354.5 v2.5 M564.91,635.4 v-1.3 M564.91,564.6 v1.3 M575.85,548.5 v-2.5 M575.85,354.5 v2.5 M575.85,635.4 v-1.3 M575.85,564.6 v1.3 M581.31,548.5 v-2.5 M581.31,354.5 v2.5 M581.31,635.4 v-1.3 M581.31,564.6 v1.3 M586.78,548.5 v-2.5 M586.78,354.5 v2.5 M586.78,635.4 v-1.3 M586.78,564.6 v1.3 M592.24,548.5 v-2.5 M592.24,354.5 v2.5 M592.24,635.4 v-1.3 M592.24,564.6 v1.3 M603.18,548.5 v-2.5 M603.18,354.5 v2.5 M603.18,635.4 v-1.3 M603.18,564.6 v1.3 M608.64,548.5 v-2.5 M608.64,354.5 v2.5 M608.64,635.4 v-1.3 M608.64,564.6 v1.3 M614.11,548.5 v-2.5 M614.11,354.5 v2.5 M614.11,635.4 v-1.3 M614.11,564.6 v1.3 M619.57,548.5 v-2.5 M619.57,354.5 v2.5 M619.57,635.4 v-1.3 M619.57,564.6 v1.3 M630.51,548.5 v-2.5 M630.51,354.5 v2.5 M630.51,635.4 v-1.3 M630.51,564.6 v1.3 M635.97,548.5 v-2.5 M635.97,354.5 v2.5 M635.97,635.4 v-1.3 M635.97,564.6 v1.3 M641.44,548.5 v-2.5 M641.44,354.5 v2.5 M641.44,635.4 v-1.3 M641.44,564.6 v1.3 M646.9,548.5 v-2.5 M646.9,354.5 v2.5 M646.9,635.4 v-1.3 M646.9,564.6 v1.3 M657.84,548.5 v-2.5 M657.84,354.5 v2.5 M657.84,635.4 v-1.3 M657.84,564.6 v1.3 M663.3,548.5 v-2.5 M663.3,354.5 v2.5 M663.3,635.4 v-1.3 M663.3,564.6 v1.3 M668.77,548.5 v-2.5 M668.77,354.5 v2.5 M668.77,635.4 v-1.3 M668.77,564.6 v1.3 M674.23,548.5 v-2.5 M674.23,354.5 v2.5 M674.23,635.4 v-1.3 M674.23,564.6 v1.3 M406.4,525.68 h8.5 M679.7,525.68 h-8.5 M406.4,502.85 h8.5 M679.7,502.85 h-8.5 M406.4,480.03 h8.5 M679.7,480.03 h-8.5 M406.4,457.21 h8.5 M679.7,457.21 h-8.5 M406.4,434.38 h8.5 M679.7,434.38 h-8.5 M406.4,411.56 h8.5 M679.7,411.56 h-8.5 M406.4,388.74 h8.5 M679.7,388.74 h-8.5 M406.4,365.91 h8.5 M679.7,365.91 h-8.5 M406.4,542.79 h4.5 M679.7,542.79 h-4.5 M406.4,537.09 h4.5 M679.7,537.09 h-4.5 M406.4,531.38 h4.5 M679.7,531.38 h-4.5 M406.4,519.97 h4.5 M679.7,519.97 h-4.5 M406.4,514.26 h4.5 M679.7,514.26 h-4.5 M406.4,508.56 h4.5 M679.7,508.56 h-4.5 M406.4,497.15 h4.5 M679.7,497.15 h-4.5 M406.4,491.44 h4.5 M679.7,491.44 h-4.5 M406.4,485.74 h4.5 M679.7,485.74 h-4.5 M406.4,474.32 h4.5 M679.7,474.32 h-4.5 M406.4,468.62 h4.5 M679.7,468.62 h-4.5 M406.4,462.91 h4.5 M679.7,462.91 h-4.5 M406.4,451.5 h4.5 M679.7,451.5 h-4.5 M406.4,445.79 h4.5 M679.7,445.79 h-4.5 M406.4,440.09 h4.5 M679.7,440.09 h-4.5 M406.4,428.68 h4.5 M679.7,428.68 h-4.5 M406.4,422.97 h4.5 M679.7,422.97 h-4.5 M406.4,417.26 h4.5 M679.7,417.26 h-4.5 M406.4,405.85 h4.5 M679.7,405.85 h-4.5 M406.4,400.15 h4.5 M679.7,400.15 h-4.5 M406.4,394.44 h4.5 M679.7,394.44 h-4.5 M406.4,383.03 h4.5 M679.7,383.03 h-4.5 M406.4,377.32 h4.5 M679.7,377.32 h-4.5 M406.4,371.62 h4.5 M679.7,371.62 h-4.5 M406.4,360.21 h4.5 M679.7,360.21 h-4.5 M406.4,631.86 h3 M679.7,631.86 h-3 M406.4,628.32 h3 M679.7,628.32 h-3 M406.4,624.78 h3 M679.7,624.78 h-3 M406.4,621.24 h3 M679.7,621.24 h-3 M406.4,617.7 h6 M679.7,617.7 h-6 M406.4,614.16 h3 M679.7,614.16 h-3 M406.4,610.62 h3 M679.7,610.62 h-3 M406.4,607.08 h3 M679.7,607.08 h-3 M406.4,603.54 h3 M679.7,603.54 h-3 M406.4,600 h6 M679.7,600 h-6 M406.4,596.46 h3 M679.7,596.46 h-3 M406.4,592.92 h3 M679.7,592.92 h-3 M406.4,589.38 h3 M679.7,589.38 h-3 M406.4,585.84 h3 M679.7,585.84 h-3 M406.4,582.3 h6 M679.7,582.3 h-6 M406.4,578.76 h3 M679.7,578.76 h-3 M406.4,575.22 h3 M679.7,575.22 h-3 M406.4,571.68 h3 M679.7,571.68 h-3 M406.4,568.14 h3 M679.7,568.14 h-3" stroke="#333" stroke-width="0.9" fill="none"/>
<rect x="406.4" y="354.5" width="273.3" height="194" fill="none" stroke="#3a3a3a" stroke-width="1"/>
<rect x="406.4" y="564.6" width="273.3" height="70.8" fill="none" stroke="#3a3a3a" stroke-width="1"/>
<text x="406.4" y="645.8" font-size="9.6" text-anchor="middle" font-weight="normal" font-style="normal" fill="#111">0.5</text>
<text x="433.73" y="645.8" font-size="9.6" text-anchor="middle" font-weight="normal" font-style="normal" fill="#111">0.55</text>
<text x="461.06" y="645.8" font-size="9.6" text-anchor="middle" font-weight="normal" font-style="normal" fill="#111">0.6</text>
<text x="488.39" y="645.8" font-size="9.6" text-anchor="middle" font-weight="normal" font-style="normal" fill="#111">0.65</text>
<text x="515.72" y="645.8" font-size="9.6" text-anchor="middle" font-weight="normal" font-style="normal" fill="#111">0.7</text>
<text x="543.05" y="645.8" font-size="9.6" text-anchor="middle" font-weight="normal" font-style="normal" fill="#111">0.75</text>
<text x="570.38" y="645.8" font-size="9.6" text-anchor="middle" font-weight="normal" font-style="normal" fill="#111">0.8</text>
<text x="597.71" y="645.8" font-size="9.6" text-anchor="middle" font-weight="normal" font-style="normal" fill="#111">0.85</text>
<text x="625.04" y="645.8" font-size="9.6" text-anchor="middle" font-weight="normal" font-style="normal" fill="#111">0.9</text>
<text x="652.37" y="645.8" font-size="9.6" text-anchor="middle" font-weight="normal" font-style="normal" fill="#111">0.95</text>
<text x="679.7" y="645.8" font-size="9.6" text-anchor="middle" font-weight="normal" font-style="normal" fill="#111">1</text>
<text x="402.2" y="551.9" font-size="9.7" text-anchor="end" font-weight="normal" font-style="normal" fill="#111">0</text>
<text x="402.2" y="529.08" font-size="9.7" text-anchor="end" font-weight="normal" font-style="normal" fill="#111">200</text>
<text x="402.2" y="506.25" font-size="9.7" text-anchor="end" font-weight="normal" font-style="normal" fill="#111">400</text>
<text x="402.2" y="483.43" font-size="9.7" text-anchor="end" font-weight="normal" font-style="normal" fill="#111">600</text>
<text x="402.2" y="460.61" font-size="9.7" text-anchor="end" font-weight="normal" font-style="normal" fill="#111">800</text>
<text x="402.2" y="437.78" font-size="9.7" text-anchor="end" font-weight="normal" font-style="normal" fill="#111">1000</text>
<text x="402.2" y="414.96" font-size="9.7" text-anchor="end" font-weight="normal" font-style="normal" fill="#111">1200</text>
<text x="402.2" y="392.14" font-size="9.7" text-anchor="end" font-weight="normal" font-style="normal" fill="#111">1400</text>
<text x="402.2" y="369.31" font-size="9.7" text-anchor="end" font-weight="normal" font-style="normal" fill="#111">1600</text>
<text x="402.4" y="621.1" font-size="9.7" text-anchor="end" font-weight="normal" font-style="normal" fill="#111">0.5</text>
<text x="402.4" y="603.4" font-size="9.7" text-anchor="end" font-weight="normal" font-style="normal" fill="#111">1</text>
<text x="402.4" y="585.7" font-size="9.7" text-anchor="end" font-weight="normal" font-style="normal" fill="#111">1.5</text>
<text x="402.4" y="568" font-size="9.7" text-anchor="end" font-weight="normal" font-style="normal" fill="#111">2</text>
<text x="63.4" y="19" font-size="8.9" text-anchor="start" font-weight="bold" font-style="italic" fill="#000">ATLAS</text>
<path d="M69,24.6 C68.2,24 66.9,24.3 66.9,26.5 L66.7,42.8 C66.7,44.8 65.2,45.2 63.6,44.6" stroke="#111" stroke-width="1.25" fill="none"/>
<circle cx="68.7" cy="24.8" r="0.9" fill="#111"/><circle cx="63.9" cy="44.3" r="0.9" fill="#111"/>
<text x="71.7" y="39.4" font-size="8.8" text-anchor="start" font-weight="normal" font-style="normal" fill="#111">L dt = 3.2 fb</text>
<text x="118" y="35" font-size="5.8" text-anchor="start" font-weight="normal" font-style="normal" fill="#111">-1</text>
<path d="M62.8,53.6 L63.8,53 L64.6,58.8 L65.3,49.8 L71,49.8" stroke="#111" stroke-width="0.8" fill="none"/>
<text x="66.1" y="58.8" font-size="8.8" text-anchor="start" font-weight="normal" font-style="normal" fill="#111" textLength="44.4" lengthAdjust="spacingAndGlyphs">s = 13 TeV</text>
<text x="63" y="75.8" font-size="8.8" text-anchor="start" font-weight="normal" font-style="normal" fill="#111">Z</text>
<path d="M70.4,74.1 H78.2 M76,72.1 L78.8,74.1 L76,76.1" stroke="#222" stroke-width="0.9" fill="none"/>
<path d="M82.9,72.9 Q83.1,72 83.9,72 L87.2,72 M84.92,72 L84.92,74.9 Q84.92,75.7 86.12,75.6" stroke="#111" stroke-width="0.95" fill="none"/>
<path d="M87.3,72.9 Q87.5,72 88.3,72 L91.6,72 M89.32,72 L89.32,74.9 Q89.32,75.7 90.52,75.6" stroke="#111" stroke-width="0.95" fill="none"/>
<path d="M94.2,74.1 H101.4 M99.2,72.1 L102,74.1 L99.2,76.1" stroke="#222" stroke-width="0.9" fill="none"/>
<path d="M105.6,72 L105.6,77.7 M105.6,74.6 Q105.9,75.8 106.95,75.8 Q108.3,75.8 108.3,74.4 M108.3,72 L108.3,75.7" stroke="#111" stroke-width="0.9" fill="none"/>
<path d="M110.7,72.9 Q110.9,72 111.7,72 L115,72 M112.72,72 L112.72,74.9 Q112.72,75.7 113.92,75.6" stroke="#111" stroke-width="0.95" fill="none"/>
<text x="114.7" y="80.2" font-size="5.8" text-anchor="start" font-weight="normal" font-style="normal" fill="#111">had</text>
<text x="128.3" y="75.8" font-size="8.8" text-anchor="start" font-weight="normal" font-style="normal" fill="#111">T&amp;P</text>
<text x="63" y="92.4" font-size="8.8" text-anchor="start" font-weight="normal" font-style="normal" fill="#111">tau25_medium trigger</text>
<circle cx="143.6" cy="18.2" r="2.7" fill="#000"/>
<text x="153.5" y="21.6" font-size="9.35" text-anchor="start" font-weight="normal" font-style="normal" fill="#111">Data 2015</text>
<rect x="136.7" y="27.7" width="13.6" height="9.8" fill="#cccc00" stroke="#222" stroke-width="0.9"/>
<text x="153.5" y="35.7" font-size="9.35" text-anchor="start" font-weight="normal" font-style="normal" fill="#111">Other</text>
<path d="M137.1,45.6 L139.7,43.3 L148.7,51.4 M142.3,51.4 L150.5,43.6" stroke="#555" stroke-width="0.9" fill="none"/>
<text x="153.5" y="50.3" font-size="9.35" text-anchor="start" font-weight="normal" font-style="normal" fill="#111">Stat. Unc.</text>
<rect x="201.6" y="13.4" width="13.6" height="9.8" fill="#3399ff" stroke="#222" stroke-width="0.9"/>
<text x="217.4" y="21.6" font-size="9.35" text-anchor="start" font-weight="normal" font-style="normal" fill="#111">Z</text>
<path d="M224.4,19.1 H232.2 M230,17.1 L232.8,19.1 L230,21.1" stroke="#222" stroke-width="0.9" fill="none"/>
<path d="M233.2,18.3 Q233.4,17.4 234.2,17.4 L237.4,17.4 M235.17,17.4 L235.17,20.8 Q235.17,21.6 236.35,21.5" stroke="#111" stroke-width="0.95" fill="none"/>
<path d="M237.5,18.3 Q237.7,17.4 238.5,17.4 L241.7,17.4 M239.47,17.4 L239.47,20.8 Q239.47,21.6 240.65,21.5" stroke="#111" stroke-width="0.95" fill="none"/>
<rect x="201.6" y="27.7" width="13.6" height="9.8" fill="#66cc66" stroke="#222" stroke-width="0.9"/>
<text x="217.4" y="35.7" font-size="9.35" text-anchor="start" font-weight="normal" font-style="normal" fill="#111">W+jets and multijets</text>
<text x="420.5" y="19" font-size="8.9" text-anchor="start" font-weight="bold" font-style="italic" fill="#000">ATLAS</text>
<path d="M426.1,24.6 C425.3,24 424,24.3 424,26.5 L423.8,42.8 C423.8,44.8 422.3,45.2 420.7,44.6" stroke="#111" stroke-width="1.25" fill="none"/>
<circle cx="425.8" cy="24.8" r="0.9" fill="#111"/><circle cx="421" cy="44.3" r="0.9" fill="#111"/>
<text x="428.8" y="39.4" font-size="8.8" text-anchor="start" font-weight="normal" font-style="normal" fill="#111">L dt = 3.2 fb</text>
<text x="475.1" y="35" font-size="5.8" text-anchor="start" font-weight="normal" font-style="normal" fill="#111">-1</text>
<path d="M419.9,53.6 L420.9,53 L421.7,58.8 L422.4,49.8 L428.1,49.8" stroke="#111" stroke-width="0.8" fill="none"/>
<text x="423.2" y="58.8" font-size="8.8" text-anchor="start" font-weight="normal" font-style="normal" fill="#111" textLength="44.4" lengthAdjust="spacingAndGlyphs">s = 13 TeV</text>
<text x="420.1" y="75.8" font-size="8.8" text-anchor="start" font-weight="normal" font-style="normal" fill="#111">Z</text>
<path d="M427.5,74.1 H435.3 M433.1,72.1 L435.9,74.1 L433.1,76.1" stroke="#222" stroke-width="0.9" fill="none"/>
<path d="M440,72.9 Q440.2,72 441,72 L444.3,72 M442.02,72 L442.02,74.9 Q442.02,75.7 443.23,75.6" stroke="#111" stroke-width="0.95" fill="none"/>
<path d="M444.4,72.9 Q444.6,72 445.4,72 L448.7,72 M446.42,72 L446.42,74.9 Q446.42,75.7 447.62,75.6" stroke="#111" stroke-width="0.95" fill="none"/>
<path d="M451.3,74.1 H458.5 M456.3,72.1 L459.1,74.1 L456.3,76.1" stroke="#222" stroke-width="0.9" fill="none"/>
<path d="M462.7,72 L462.7,77.7 M462.7,74.6 Q463,75.8 464.05,75.8 Q465.4,75.8 465.4,74.4 M465.4,72 L465.4,75.7" stroke="#111" stroke-width="0.9" fill="none"/>
<path d="M467.8,72.9 Q468,72 468.8,72 L472.1,72 M469.82,72 L469.82,74.9 Q469.82,75.7 471.03,75.6" stroke="#111" stroke-width="0.95" fill="none"/>
<text x="471.8" y="80.2" font-size="5.8" text-anchor="start" font-weight="normal" font-style="normal" fill="#111">had</text>
<text x="485.4" y="75.8" font-size="8.8" text-anchor="start" font-weight="normal" font-style="normal" fill="#111">T&amp;P</text>
<text x="420.1" y="92.4" font-size="8.8" text-anchor="start" font-weight="normal" font-style="normal" fill="#111">tau25_medium trigger</text>
<circle cx="500.7" cy="18.2" r="2.7" fill="#000"/>
<text x="510.6" y="21.6" font-size="9.35" text-anchor="start" font-weight="normal" font-style="normal" fill="#111">Data 2015</text>
<rect x="493.8" y="27.7" width="13.6" height="9.8" fill="#cccc00" stroke="#222" stroke-width="0.9"/>
<text x="510.6" y="35.7" font-size="9.35" text-anchor="start" font-weight="normal" font-style="normal" fill="#111">Other</text>
<path d="M494.2,45.6 L496.8,43.3 L505.8,51.4 M499.4,51.4 L507.6,43.6" stroke="#555" stroke-width="0.9" fill="none"/>
<text x="510.6" y="50.3" font-size="9.35" text-anchor="start" font-weight="normal" font-style="normal" fill="#111">Stat. Unc.</text>
<rect x="558.7" y="13.4" width="13.6" height="9.8" fill="#3399ff" stroke="#222" stroke-width="0.9"/>
<text x="574.5" y="21.6" font-size="9.35" text-anchor="start" font-weight="normal" font-style="normal" fill="#111">Z</text>
<path d="M581.5,19.1 H589.3 M587.1,17.1 L589.9,19.1 L587.1,21.1" stroke="#222" stroke-width="0.9" fill="none"/>
<path d="M590.3,18.3 Q590.5,17.4 591.3,17.4 L594.5,17.4 M592.27,17.4 L592.27,20.8 Q592.27,21.6 593.45,21.5" stroke="#111" stroke-width="0.95" fill="none"/>
<path d="M594.6,18.3 Q594.8,17.4 595.6,17.4 L598.8,17.4 M596.57,17.4 L596.57,20.8 Q596.57,21.6 597.75,21.5" stroke="#111" stroke-width="0.95" fill="none"/>
<rect x="558.7" y="27.7" width="13.6" height="9.8" fill="#66cc66" stroke="#222" stroke-width="0.9"/>
<text x="574.5" y="35.7" font-size="9.35" text-anchor="start" font-weight="normal" font-style="normal" fill="#111">W+jets and multijets</text>
<text x="63.2" y="373.3" font-size="8.9" text-anchor="start" font-weight="bold" font-style="italic" fill="#000">ATLAS</text>
<path d="M68.8,378.9 C68,378.3 66.7,378.6 66.7,380.8 L66.5,397.1 C66.5,399.1 65,399.5 63.4,398.9" stroke="#111" stroke-width="1.25" fill="none"/>
<circle cx="68.5" cy="379.1" r="0.9" fill="#111"/><circle cx="63.7" cy="398.6" r="0.9" fill="#111"/>
<text x="71.5" y="393.7" font-size="8.8" text-anchor="start" font-weight="normal" font-style="normal" fill="#111">L dt = 3.2 fb</text>
<text x="117.8" y="389.3" font-size="5.8" text-anchor="start" font-weight="normal" font-style="normal" fill="#111">-1</text>
<path d="M62.6,407.9 L63.6,407.3 L64.4,413.1 L65.1,404.1 L70.8,404.1" stroke="#111" stroke-width="0.8" fill="none"/>
<text x="65.9" y="413.1" font-size="8.8" text-anchor="start" font-weight="normal" font-style="normal" fill="#111" textLength="44.4" lengthAdjust="spacingAndGlyphs">s = 13 TeV</text>
<text x="62.8" y="430.1" font-size="8.8" text-anchor="start" font-weight="normal" font-style="normal" fill="#111">Z</text>
<path d="M70.2,428.4 H78 M75.8,426.4 L78.6,428.4 L75.8,430.4" stroke="#222" stroke-width="0.9" fill="none"/>
<path d="M82.7,427.2 Q82.9,426.3 83.7,426.3 L87,426.3 M84.72,426.3 L84.72,429.2 Q84.72,430 85.92,429.9" stroke="#111" stroke-width="0.95" fill="none"/>
<path d="M87.1,427.2 Q87.3,426.3 88.1,426.3 L91.4,426.3 M89.12,426.3 L89.12,429.2 Q89.12,430 90.32,429.9" stroke="#111" stroke-width="0.95" fill="none"/>
<path d="M94,428.4 H101.2 M99,426.4 L101.8,428.4 L99,430.4" stroke="#222" stroke-width="0.9" fill="none"/>
<path d="M105.4,426.3 L105.4,432 M105.4,428.9 Q105.7,430.1 106.75,430.1 Q108.1,430.1 108.1,428.7 M108.1,426.3 L108.1,430" stroke="#111" stroke-width="0.9" fill="none"/>
<path d="M110.5,427.2 Q110.7,426.3 111.5,426.3 L114.8,426.3 M112.52,426.3 L112.52,429.2 Q112.52,430 113.72,429.9" stroke="#111" stroke-width="0.95" fill="none"/>
<text x="114.5" y="434.5" font-size="5.8" text-anchor="start" font-weight="normal" font-style="normal" fill="#111">had</text>
<text x="128.1" y="430.1" font-size="8.8" text-anchor="start" font-weight="normal" font-style="normal" fill="#111">T&amp;P</text>
<text x="62.8" y="446.7" font-size="8.8" text-anchor="start" font-weight="normal" font-style="normal" fill="#111">tau25_medium trigger</text>
<circle cx="143.4" cy="372.5" r="2.7" fill="#000"/>
<text x="153.3" y="375.9" font-size="9.35" text-anchor="start" font-weight="normal" font-style="normal" fill="#111">Data 2015</text>
<rect x="136.5" y="382" width="13.6" height="9.8" fill="#cccc00" stroke="#222" stroke-width="0.9"/>
<text x="153.3" y="390" font-size="9.35" text-anchor="start" font-weight="normal" font-style="normal" fill="#111">Other</text>
<path d="M140.3,397.5 L148.1,405.8 M149.5,398.3 L142,405.8 M136.3,400.5 L138.5,397.9 M146.3,396 L148.2,397.6" stroke="#555" stroke-width="0.9" fill="none"/>
<text x="153.3" y="404.6" font-size="9.35" text-anchor="start" font-weight="normal" font-style="normal" fill="#111">Stat. Unc.</text>
<rect x="201.4" y="367.7" width="13.6" height="9.8" fill="#3399ff" stroke="#222" stroke-width="0.9"/>
<text x="217.2" y="375.9" font-size="9.35" text-anchor="start" font-weight="normal" font-style="normal" fill="#111">Z</text>
<path d="M224.2,373.4 H232 M229.8,371.4 L232.6,373.4 L229.8,375.4" stroke="#222" stroke-width="0.9" fill="none"/>
<path d="M233,372.6 Q233.2,371.7 234,371.7 L237.2,371.7 M234.97,371.7 L234.97,375.1 Q234.97,375.9 236.15,375.8" stroke="#111" stroke-width="0.95" fill="none"/>
<path d="M237.3,372.6 Q237.5,371.7 238.3,371.7 L241.5,371.7 M239.27,371.7 L239.27,375.1 Q239.27,375.9 240.45,375.8" stroke="#111" stroke-width="0.95" fill="none"/>
<rect x="201.4" y="382" width="13.6" height="9.8" fill="#66cc66" stroke="#222" stroke-width="0.9"/>
<text x="217.2" y="390" font-size="9.35" text-anchor="start" font-weight="normal" font-style="normal" fill="#111">W+jets and multijets</text>
<text x="420.3" y="373.3" font-size="8.9" text-anchor="start" font-weight="bold" font-style="italic" fill="#000">ATLAS</text>
<path d="M425.9,378.9 C425.1,378.3 423.8,378.6 423.8,380.8 L423.6,397.1 C423.6,399.1 422.1,399.5 420.5,398.9" stroke="#111" stroke-width="1.25" fill="none"/>
<circle cx="425.6" cy="379.1" r="0.9" fill="#111"/><circle cx="420.8" cy="398.6" r="0.9" fill="#111"/>
<text x="428.6" y="393.7" font-size="8.8" text-anchor="start" font-weight="normal" font-style="normal" fill="#111">L dt = 3.2 fb</text>
<text x="474.9" y="389.3" font-size="5.8" text-anchor="start" font-weight="normal" font-style="normal" fill="#111">-1</text>
<path d="M419.7,407.9 L420.7,407.3 L421.5,413.1 L422.2,404.1 L427.9,404.1" stroke="#111" stroke-width="0.8" fill="none"/>
<text x="423" y="413.1" font-size="8.8" text-anchor="start" font-weight="normal" font-style="normal" fill="#111" textLength="44.4" lengthAdjust="spacingAndGlyphs">s = 13 TeV</text>
<text x="419.9" y="430.1" font-size="8.8" text-anchor="start" font-weight="normal" font-style="normal" fill="#111">Z</text>
<path d="M427.3,428.4 H435.1 M432.9,426.4 L435.7,428.4 L432.9,430.4" stroke="#222" stroke-width="0.9" fill="none"/>
<path d="M439.8,427.2 Q440,426.3 440.8,426.3 L444.1,426.3 M441.82,426.3 L441.82,429.2 Q441.82,430 443.03,429.9" stroke="#111" stroke-width="0.95" fill="none"/>
<path d="M444.2,427.2 Q444.4,426.3 445.2,426.3 L448.5,426.3 M446.22,426.3 L446.22,429.2 Q446.22,430 447.43,429.9" stroke="#111" stroke-width="0.95" fill="none"/>
<path d="M451.1,428.4 H458.3 M456.1,426.4 L458.9,428.4 L456.1,430.4" stroke="#222" stroke-width="0.9" fill="none"/>
<path d="M462.5,426.3 L462.5,432 M462.5,428.9 Q462.8,430.1 463.85,430.1 Q465.2,430.1 465.2,428.7 M465.2,426.3 L465.2,430" stroke="#111" stroke-width="0.9" fill="none"/>
<path d="M467.6,427.2 Q467.8,426.3 468.6,426.3 L471.9,426.3 M469.62,426.3 L469.62,429.2 Q469.62,430 470.83,429.9" stroke="#111" stroke-width="0.95" fill="none"/>
<text x="471.6" y="434.5" font-size="5.8" text-anchor="start" font-weight="normal" font-style="normal" fill="#111">had</text>
<text x="485.2" y="430.1" font-size="8.8" text-anchor="start" font-weight="normal" font-style="normal" fill="#111">T&amp;P</text>
<text x="419.9" y="446.7" font-size="8.8" text-anchor="start" font-weight="normal" font-style="normal" fill="#111">tau25_medium trigger</text>
<circle cx="500.5" cy="372.5" r="2.7" fill="#000"/>
<text x="510.4" y="375.9" font-size="9.35" text-anchor="start" font-weight="normal" font-style="normal" fill="#111">Data 2015</text>
<rect x="493.6" y="382" width="13.6" height="9.8" fill="#cccc00" stroke="#222" stroke-width="0.9"/>
<text x="510.4" y="390" font-size="9.35" text-anchor="start" font-weight="normal" font-style="normal" fill="#111">Other</text>
<path d="M497.5,396.2 L495.3,398.8 L501.6,405.6 M500.2,396.2 L503,398.8 L496.3,405.6" stroke="#555" stroke-width="0.9" fill="none"/>
<text x="510.4" y="404.6" font-size="9.35" text-anchor="start" font-weight="normal" font-style="normal" fill="#111">Stat. Unc.</text>
<rect x="558.5" y="367.7" width="13.6" height="9.8" fill="#3399ff" stroke="#222" stroke-width="0.9"/>
<text x="574.3" y="375.9" font-size="9.35" text-anchor="start" font-weight="normal" font-style="normal" fill="#111">Z</text>
<path d="M581.3,373.4 H589.1 M586.9,371.4 L589.7,373.4 L586.9,375.4" stroke="#222" stroke-width="0.9" fill="none"/>
<path d="M590.1,372.6 Q590.3,371.7 591.1,371.7 L594.3,371.7 M592.07,371.7 L592.07,375.1 Q592.07,375.9 593.25,375.8" stroke="#111" stroke-width="0.95" fill="none"/>
<path d="M594.4,372.6 Q594.6,371.7 595.4,371.7 L598.6,371.7 M596.37,371.7 L596.37,375.1 Q596.37,375.9 597.55,375.8" stroke="#111" stroke-width="0.95" fill="none"/>
<rect x="558.5" y="382" width="13.6" height="9.8" fill="#66cc66" stroke="#222" stroke-width="0.9"/>
<text x="574.3" y="390" font-size="9.35" text-anchor="start" font-weight="normal" font-style="normal" fill="#111">W+jets and multijets</text>
<text x="14.3" y="1.8" font-size="11.7" text-anchor="end" font-weight="normal" font-style="normal" fill="#111" transform="rotate(-90 14.3 1.8)">Events</text>
<text x="371" y="1.5" font-size="11.7" text-anchor="end" font-weight="normal" font-style="normal" fill="#111" transform="rotate(-90 371 1.5)">Events</text>
<text x="10.1" y="355.2" font-size="11.7" text-anchor="end" font-weight="normal" font-style="normal" fill="#111" transform="rotate(-90 10.1 355.2)">Events</text>
<text x="369.1" y="354.8" font-size="11.7" text-anchor="end" font-weight="normal" font-style="normal" fill="#111" transform="rotate(-90 369.1 354.8)">Events</text>
<text x="18.75" y="210.8" font-size="11.7" text-anchor="end" font-weight="normal" font-style="normal" fill="#111" transform="rotate(-90 18.75 210.8)">Data/exp.</text>
<text x="376.4" y="211.3" font-size="11.7" text-anchor="end" font-weight="normal" font-style="normal" fill="#111" transform="rotate(-90 376.4 211.3)">Data/exp.</text>
<text x="21.4" y="564" font-size="11.7" text-anchor="end" font-weight="normal" font-style="normal" fill="#111" transform="rotate(-90 21.4 564)">Data/exp.</text>
<text x="374.6" y="564" font-size="11.7" text-anchor="end" font-weight="normal" font-style="normal" fill="#111" transform="rotate(-90 374.6 564)">Data/exp.</text>
<text x="227.9" y="306.9" font-size="10.8" text-anchor="start" font-weight="normal" font-style="normal" fill="#111" textLength="42.4" lengthAdjust="spacingAndGlyphs">HLT tau</text>
<text x="278.6" y="307.2" font-size="11.2" text-anchor="start" font-weight="normal" font-style="italic" fill="#111">p</text>
<text x="285.7" y="314.3" font-size="9.4" text-anchor="start" font-weight="normal" font-style="normal" fill="#111">T</text>
<text x="294.6" y="306.9" font-size="10.8" text-anchor="start" font-weight="normal" font-style="normal" fill="#111" textLength="30.6" lengthAdjust="spacingAndGlyphs">[GeV]</text>
<text x="168.6" y="312.1" font-size="13.5" text-anchor="start" font-weight="bold" font-style="normal" fill="#000">(a)</text>
<text x="627.5" y="307.8" font-size="10.8" text-anchor="start" font-weight="normal" font-style="normal" fill="#111" textLength="42" lengthAdjust="spacingAndGlyphs">HLT tau</text>
<text x="684.2" y="307.8" font-size="11.6" text-anchor="end" font-weight="normal" font-style="normal" fill="#111">&#951;</text>
<text x="533.4" y="311" font-size="13.5" text-anchor="start" font-weight="bold" font-style="normal" fill="#000">(b)</text>
<text x="246.9" y="660.9" font-size="10.8" text-anchor="start" font-weight="normal" font-style="normal" fill="#111" textLength="43" lengthAdjust="spacingAndGlyphs">HLT tau</text>
<text x="297.6" y="660.9" font-size="11.4" text-anchor="start" font-weight="normal" font-style="italic" fill="#111">N</text>
<text x="307.6" y="664.4" font-size="8.5" text-anchor="start" font-weight="normal" font-style="normal" fill="#111" textLength="18.6" lengthAdjust="spacingAndGlyphs">track</text>
<text x="159.4" y="667.9" font-size="13.5" text-anchor="start" font-weight="bold" font-style="normal" fill="#000">(c)</text>
<text x="559.3" y="662.9" font-size="10.8" text-anchor="start" font-weight="normal" font-style="normal" fill="#111" textLength="121.6" lengthAdjust="spacingAndGlyphs">HLT BDT tau&#8722;id. score</text>
<text x="514.6" y="667.8" font-size="13.5" text-anchor="start" font-weight="bold" font-style="normal" fill="#000">(d)</text></svg>
</body></html>
